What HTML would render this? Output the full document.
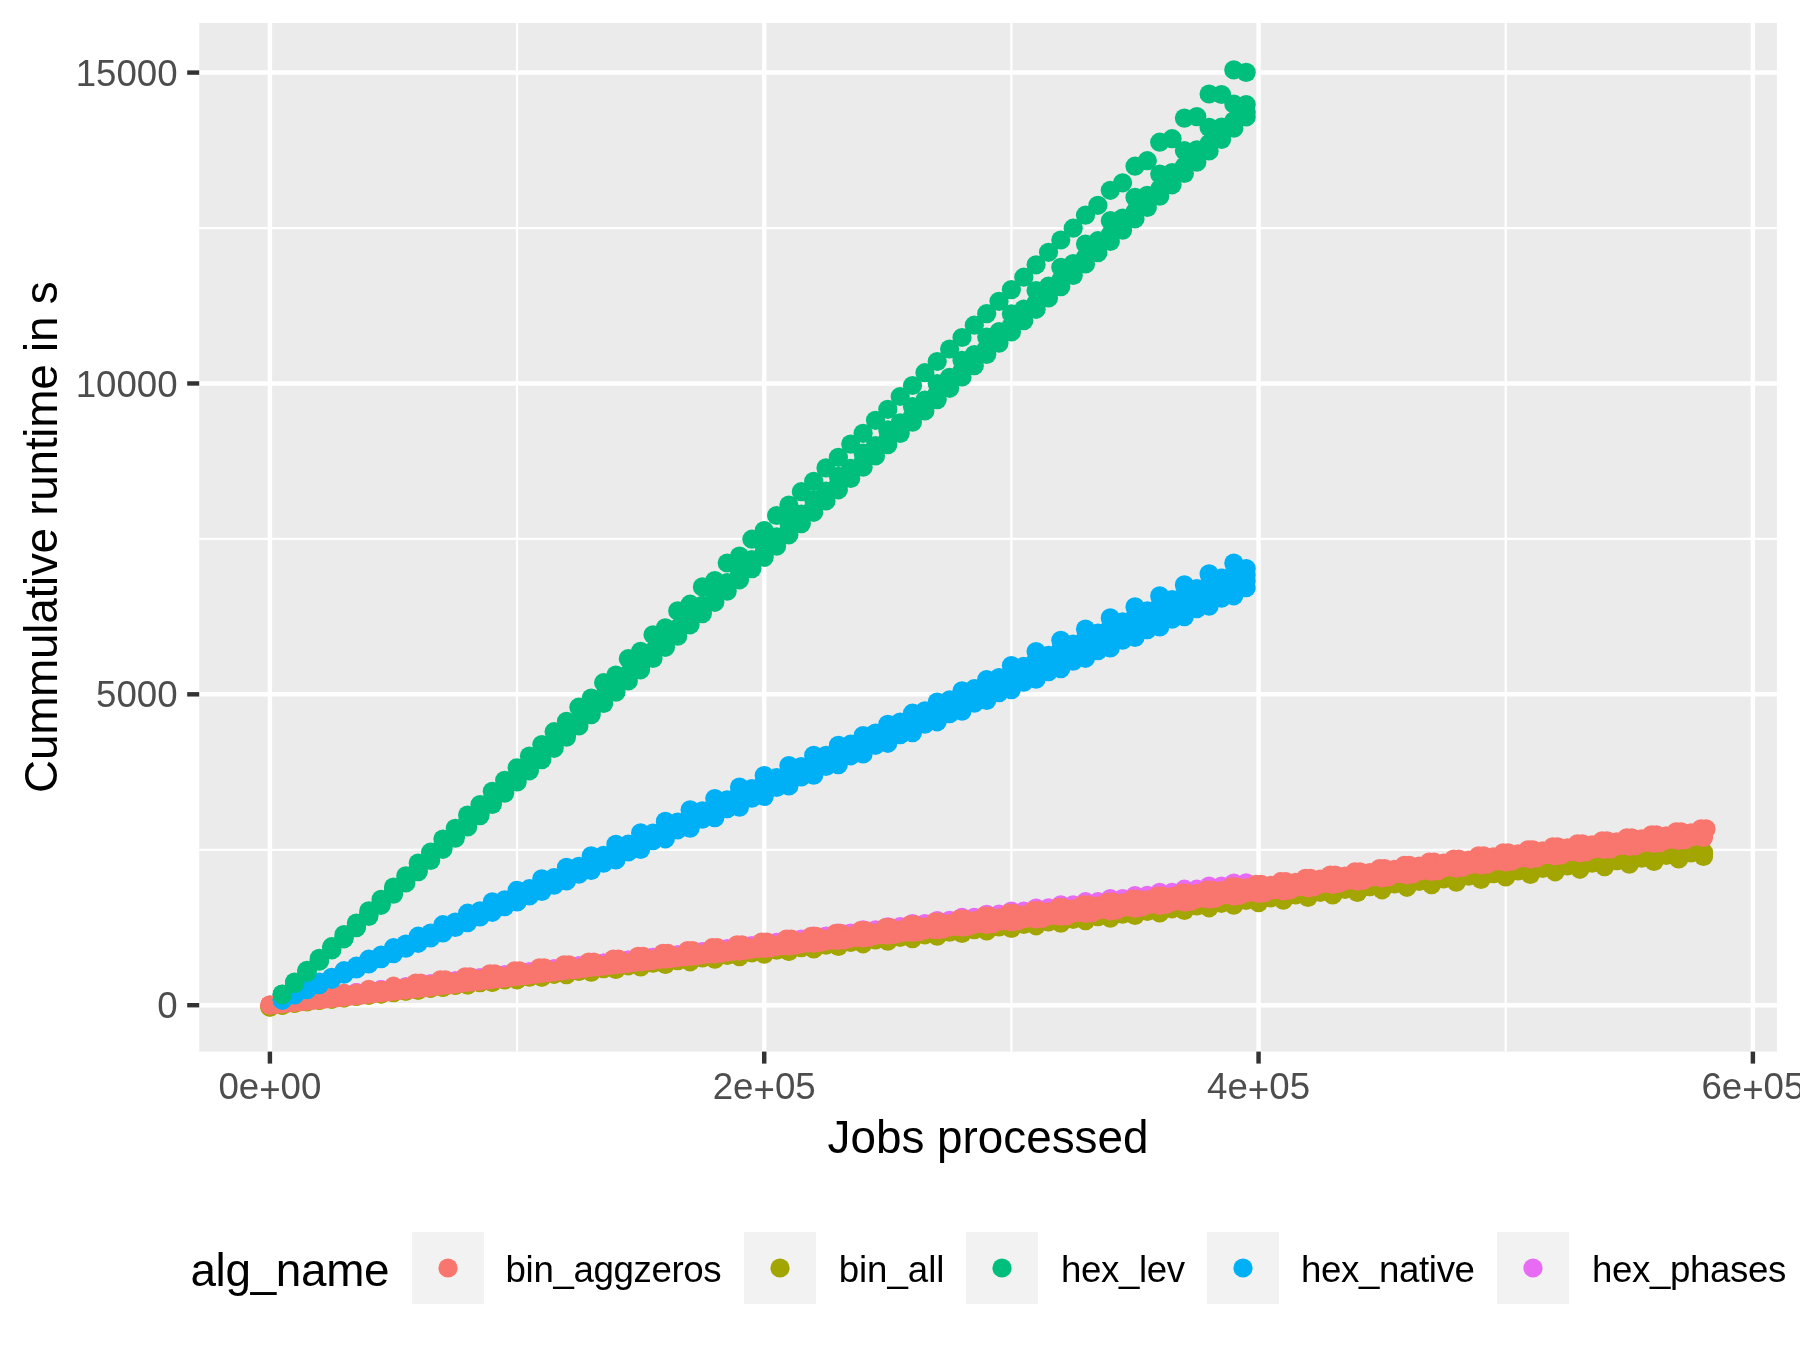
<!DOCTYPE html>
<html><head><meta charset="utf-8"><title>Cumulative runtime</title>
<style>html,body{margin:0;padding:0;background:#fff;}svg{display:block;will-change:transform;}text{font-family:"Liberation Sans",Arial,sans-serif;}</style>
</head><body>
<svg width="1800" height="1350" viewBox="0 0 1800 1350">
<rect width="1800" height="1350" fill="#fff"/>
<rect x="199.2" y="23.0" width="1577.7" height="1028.6" fill="#EBEBEB"/>
<line x1="199.2" x2="1776.9" y1="849.77" y2="849.77" stroke="#fff" stroke-width="2.22"/>
<line x1="199.2" x2="1776.9" y1="538.89" y2="538.89" stroke="#fff" stroke-width="2.22"/>
<line x1="199.2" x2="1776.9" y1="228.03" y2="228.03" stroke="#fff" stroke-width="2.22"/>
<line y1="23.0" y2="1051.6" x1="517.06" x2="517.06" stroke="#fff" stroke-width="2.22"/>
<line y1="23.0" y2="1051.6" x1="1011.39" x2="1011.39" stroke="#fff" stroke-width="2.22"/>
<line y1="23.0" y2="1051.6" x1="1505.72" x2="1505.72" stroke="#fff" stroke-width="2.22"/>
<line x1="199.2" x2="1776.9" y1="1005.20" y2="1005.20" stroke="#fff" stroke-width="4.45"/>
<line x1="199.2" x2="1776.9" y1="694.33" y2="694.33" stroke="#fff" stroke-width="4.45"/>
<line x1="199.2" x2="1776.9" y1="383.46" y2="383.46" stroke="#fff" stroke-width="4.45"/>
<line x1="199.2" x2="1776.9" y1="72.59" y2="72.59" stroke="#fff" stroke-width="4.45"/>
<line y1="23.0" y2="1051.6" x1="269.90" x2="269.90" stroke="#fff" stroke-width="4.45"/>
<line y1="23.0" y2="1051.6" x1="764.23" x2="764.23" stroke="#fff" stroke-width="4.45"/>
<line y1="23.0" y2="1051.6" x1="1258.56" x2="1258.56" stroke="#fff" stroke-width="4.45"/>
<line y1="23.0" y2="1051.6" x1="1752.89" x2="1752.89" stroke="#fff" stroke-width="4.45"/>
<svg x="199.2" y="23.0" width="1577.7" height="1028.6" viewBox="199.2 23.0 1577.7 1028.6" overflow="hidden">
<g fill="#A3A500"><circle cx="269.9" cy="1007.0" r="9.6"/><circle cx="269.9" cy="1007.0" r="9.6"/><circle cx="269.9" cy="1007.0" r="9.6"/><circle cx="282.3" cy="1005.1" r="9.6"/><circle cx="282.3" cy="1005.1" r="9.6"/><circle cx="282.3" cy="1005.1" r="9.6"/><circle cx="294.6" cy="1003.1" r="9.6"/><circle cx="294.6" cy="1003.1" r="9.6"/><circle cx="294.6" cy="1003.1" r="9.6"/><circle cx="307.0" cy="1001.6" r="9.6"/><circle cx="307.0" cy="1001.6" r="9.6"/><circle cx="307.0" cy="1001.5" r="9.6"/><circle cx="319.3" cy="1000.4" r="9.6"/><circle cx="319.3" cy="1000.3" r="9.6"/><circle cx="319.3" cy="1000.2" r="9.6"/><circle cx="331.7" cy="999.1" r="9.6"/><circle cx="331.7" cy="999.0" r="9.6"/><circle cx="331.7" cy="998.9" r="9.6"/><circle cx="344.0" cy="997.8" r="9.6"/><circle cx="344.0" cy="997.7" r="9.6"/><circle cx="344.0" cy="997.6" r="9.6"/><circle cx="356.4" cy="996.5" r="9.6"/><circle cx="356.4" cy="996.4" r="9.6"/><circle cx="356.4" cy="996.2" r="9.6"/><circle cx="368.8" cy="995.2" r="9.6"/><circle cx="368.8" cy="995.1" r="9.6"/><circle cx="368.8" cy="994.9" r="9.6"/><circle cx="381.1" cy="993.9" r="9.6"/><circle cx="381.1" cy="993.8" r="9.6"/><circle cx="381.1" cy="993.6" r="9.6"/><circle cx="393.5" cy="992.6" r="9.6"/><circle cx="393.5" cy="992.5" r="9.6"/><circle cx="393.5" cy="992.3" r="9.6"/><circle cx="405.8" cy="991.1" r="9.6"/><circle cx="405.8" cy="990.9" r="9.6"/><circle cx="405.8" cy="990.7" r="9.6"/><circle cx="418.2" cy="990.1" r="9.6"/><circle cx="418.2" cy="989.9" r="9.6"/><circle cx="418.2" cy="989.6" r="9.6"/><circle cx="430.6" cy="988.3" r="9.6"/><circle cx="430.6" cy="988.1" r="9.6"/><circle cx="430.6" cy="987.8" r="9.6"/><circle cx="442.9" cy="987.5" r="9.6"/><circle cx="442.9" cy="987.2" r="9.6"/><circle cx="442.9" cy="987.0" r="9.6"/><circle cx="455.3" cy="985.5" r="9.6"/><circle cx="455.3" cy="985.2" r="9.6"/><circle cx="455.3" cy="984.9" r="9.6"/><circle cx="467.6" cy="984.9" r="9.6"/><circle cx="467.6" cy="984.6" r="9.6"/><circle cx="467.6" cy="984.4" r="9.6"/><circle cx="480.0" cy="982.7" r="9.6"/><circle cx="480.0" cy="982.4" r="9.6"/><circle cx="480.0" cy="982.1" r="9.6"/><circle cx="492.3" cy="982.4" r="9.6"/><circle cx="492.3" cy="982.0" r="9.6"/><circle cx="492.3" cy="981.7" r="9.6"/><circle cx="504.7" cy="979.9" r="9.6"/><circle cx="504.7" cy="979.5" r="9.6"/><circle cx="504.7" cy="979.2" r="9.6"/><circle cx="517.1" cy="979.8" r="9.6"/><circle cx="517.1" cy="979.4" r="9.6"/><circle cx="517.1" cy="979.1" r="9.6"/><circle cx="529.4" cy="977.1" r="9.6"/><circle cx="529.4" cy="976.7" r="9.6"/><circle cx="529.4" cy="976.3" r="9.6"/><circle cx="541.8" cy="977.2" r="9.6"/><circle cx="541.8" cy="976.8" r="9.6"/><circle cx="541.8" cy="976.4" r="9.6"/><circle cx="554.1" cy="974.3" r="9.6"/><circle cx="554.1" cy="973.8" r="9.6"/><circle cx="554.1" cy="973.4" r="9.6"/><circle cx="566.5" cy="974.6" r="9.6"/><circle cx="566.5" cy="974.2" r="9.6"/><circle cx="566.5" cy="973.8" r="9.6"/><circle cx="578.9" cy="971.5" r="9.6"/><circle cx="578.9" cy="971.0" r="9.6"/><circle cx="578.9" cy="970.5" r="9.6"/><circle cx="591.2" cy="972.1" r="9.6"/><circle cx="591.2" cy="971.6" r="9.6"/><circle cx="591.2" cy="971.1" r="9.6"/><circle cx="603.6" cy="968.6" r="9.6"/><circle cx="603.6" cy="968.2" r="9.6"/><circle cx="603.6" cy="967.7" r="9.6"/><circle cx="615.9" cy="969.5" r="9.6"/><circle cx="615.9" cy="969.0" r="9.6"/><circle cx="615.9" cy="968.5" r="9.6"/><circle cx="628.3" cy="965.8" r="9.6"/><circle cx="628.3" cy="965.3" r="9.6"/><circle cx="628.3" cy="964.8" r="9.6"/><circle cx="640.6" cy="966.9" r="9.6"/><circle cx="640.6" cy="966.4" r="9.6"/><circle cx="640.6" cy="965.9" r="9.6"/><circle cx="653.0" cy="963.1" r="9.6"/><circle cx="653.0" cy="962.6" r="9.6"/><circle cx="653.0" cy="962.0" r="9.6"/><circle cx="665.4" cy="964.4" r="9.6"/><circle cx="665.4" cy="963.8" r="9.6"/><circle cx="665.4" cy="963.2" r="9.6"/><circle cx="677.7" cy="960.6" r="9.6"/><circle cx="677.7" cy="960.0" r="9.6"/><circle cx="677.7" cy="959.4" r="9.6"/><circle cx="690.1" cy="961.8" r="9.6"/><circle cx="690.1" cy="961.2" r="9.6"/><circle cx="690.1" cy="960.6" r="9.6"/><circle cx="702.4" cy="958.0" r="9.6"/><circle cx="702.4" cy="957.4" r="9.6"/><circle cx="702.4" cy="956.7" r="9.6"/><circle cx="714.8" cy="959.2" r="9.6"/><circle cx="714.8" cy="958.6" r="9.6"/><circle cx="714.8" cy="957.9" r="9.6"/><circle cx="727.2" cy="955.4" r="9.6"/><circle cx="727.2" cy="954.7" r="9.6"/><circle cx="727.2" cy="954.1" r="9.6"/><circle cx="739.5" cy="956.7" r="9.6"/><circle cx="739.5" cy="956.0" r="9.6"/><circle cx="739.5" cy="955.3" r="9.6"/><circle cx="751.9" cy="952.8" r="9.6"/><circle cx="751.9" cy="952.1" r="9.6"/><circle cx="751.9" cy="951.4" r="9.6"/><circle cx="764.2" cy="954.1" r="9.6"/><circle cx="764.2" cy="953.4" r="9.6"/><circle cx="764.2" cy="952.6" r="9.6"/><circle cx="776.6" cy="950.2" r="9.6"/><circle cx="776.6" cy="949.5" r="9.6"/><circle cx="776.6" cy="948.8" r="9.6"/><circle cx="788.9" cy="951.5" r="9.6"/><circle cx="788.9" cy="950.8" r="9.6"/><circle cx="788.9" cy="950.0" r="9.6"/><circle cx="801.3" cy="947.7" r="9.6"/><circle cx="801.3" cy="946.9" r="9.6"/><circle cx="801.3" cy="946.1" r="9.6"/><circle cx="813.7" cy="948.9" r="9.6"/><circle cx="813.7" cy="948.1" r="9.6"/><circle cx="813.7" cy="947.4" r="9.6"/><circle cx="826.0" cy="945.1" r="9.6"/><circle cx="826.0" cy="944.3" r="9.6"/><circle cx="826.0" cy="943.5" r="9.6"/><circle cx="838.4" cy="946.4" r="9.6"/><circle cx="838.4" cy="945.5" r="9.6"/><circle cx="838.4" cy="944.7" r="9.6"/><circle cx="850.7" cy="942.5" r="9.6"/><circle cx="850.7" cy="941.7" r="9.6"/><circle cx="850.7" cy="940.8" r="9.6"/><circle cx="863.1" cy="943.8" r="9.6"/><circle cx="863.1" cy="942.9" r="9.6"/><circle cx="863.1" cy="942.1" r="9.6"/><circle cx="875.5" cy="939.9" r="9.6"/><circle cx="875.5" cy="939.0" r="9.6"/><circle cx="875.5" cy="938.2" r="9.6"/><circle cx="887.8" cy="941.2" r="9.6"/><circle cx="887.8" cy="940.3" r="9.6"/><circle cx="887.8" cy="939.4" r="9.6"/><circle cx="900.2" cy="937.3" r="9.6"/><circle cx="900.2" cy="936.4" r="9.6"/><circle cx="900.2" cy="935.5" r="9.6"/><circle cx="912.5" cy="938.7" r="9.6"/><circle cx="912.5" cy="937.7" r="9.6"/><circle cx="912.5" cy="936.8" r="9.6"/><circle cx="924.9" cy="934.8" r="9.6"/><circle cx="924.9" cy="933.8" r="9.6"/><circle cx="924.9" cy="932.8" r="9.6"/><circle cx="937.2" cy="936.1" r="9.6"/><circle cx="937.2" cy="935.1" r="9.6"/><circle cx="937.2" cy="934.1" r="9.6"/><circle cx="949.6" cy="932.2" r="9.6"/><circle cx="949.6" cy="931.2" r="9.6"/><circle cx="949.6" cy="930.2" r="9.6"/><circle cx="962.0" cy="933.5" r="9.6"/><circle cx="962.0" cy="932.5" r="9.6"/><circle cx="962.0" cy="931.5" r="9.6"/><circle cx="974.3" cy="929.6" r="9.6"/><circle cx="974.3" cy="928.6" r="9.6"/><circle cx="974.3" cy="927.5" r="9.6"/><circle cx="986.7" cy="930.9" r="9.6"/><circle cx="986.7" cy="929.9" r="9.6"/><circle cx="986.7" cy="928.9" r="9.6"/><circle cx="999.0" cy="927.0" r="9.6"/><circle cx="999.0" cy="926.0" r="9.6"/><circle cx="999.0" cy="924.9" r="9.6"/><circle cx="1011.4" cy="928.4" r="9.6"/><circle cx="1011.4" cy="927.3" r="9.6"/><circle cx="1011.4" cy="926.2" r="9.6"/><circle cx="1023.8" cy="924.4" r="9.6"/><circle cx="1023.8" cy="923.3" r="9.6"/><circle cx="1023.8" cy="922.2" r="9.6"/><circle cx="1036.1" cy="925.8" r="9.6"/><circle cx="1036.1" cy="924.7" r="9.6"/><circle cx="1036.1" cy="923.6" r="9.6"/><circle cx="1048.5" cy="921.9" r="9.6"/><circle cx="1048.5" cy="920.7" r="9.6"/><circle cx="1048.5" cy="919.6" r="9.6"/><circle cx="1060.8" cy="923.2" r="9.6"/><circle cx="1060.8" cy="922.1" r="9.6"/><circle cx="1060.8" cy="920.9" r="9.6"/><circle cx="1073.2" cy="919.3" r="9.6"/><circle cx="1073.2" cy="918.1" r="9.6"/><circle cx="1073.2" cy="916.9" r="9.6"/><circle cx="1085.5" cy="920.7" r="9.6"/><circle cx="1085.5" cy="919.5" r="9.6"/><circle cx="1085.5" cy="918.3" r="9.6"/><circle cx="1097.9" cy="916.7" r="9.6"/><circle cx="1097.9" cy="915.5" r="9.6"/><circle cx="1097.9" cy="914.3" r="9.6"/><circle cx="1110.3" cy="918.1" r="9.6"/><circle cx="1110.3" cy="916.9" r="9.6"/><circle cx="1110.3" cy="915.6" r="9.6"/><circle cx="1122.6" cy="914.1" r="9.6"/><circle cx="1122.6" cy="912.9" r="9.6"/><circle cx="1122.6" cy="911.6" r="9.6"/><circle cx="1135.0" cy="915.5" r="9.6"/><circle cx="1135.0" cy="914.3" r="9.6"/><circle cx="1135.0" cy="913.0" r="9.6"/><circle cx="1147.3" cy="911.5" r="9.6"/><circle cx="1147.3" cy="910.3" r="9.6"/><circle cx="1147.3" cy="909.0" r="9.6"/><circle cx="1159.7" cy="913.0" r="9.6"/><circle cx="1159.7" cy="911.7" r="9.6"/><circle cx="1159.7" cy="910.4" r="9.6"/><circle cx="1172.1" cy="908.8" r="9.6"/><circle cx="1172.1" cy="907.5" r="9.6"/><circle cx="1172.1" cy="906.2" r="9.6"/><circle cx="1184.4" cy="910.4" r="9.6"/><circle cx="1184.4" cy="909.0" r="9.6"/><circle cx="1184.4" cy="907.7" r="9.6"/><circle cx="1196.8" cy="906.0" r="9.6"/><circle cx="1196.8" cy="904.7" r="9.6"/><circle cx="1196.8" cy="903.3" r="9.6"/><circle cx="1209.1" cy="907.8" r="9.6"/><circle cx="1209.1" cy="906.4" r="9.6"/><circle cx="1209.1" cy="905.1" r="9.6"/><circle cx="1221.5" cy="903.3" r="9.6"/><circle cx="1221.5" cy="901.9" r="9.6"/><circle cx="1221.5" cy="900.5" r="9.6"/><circle cx="1233.8" cy="905.2" r="9.6"/><circle cx="1233.8" cy="903.8" r="9.6"/><circle cx="1233.8" cy="902.4" r="9.6"/><circle cx="1246.2" cy="900.5" r="9.6"/><circle cx="1246.2" cy="899.1" r="9.6"/><circle cx="1246.2" cy="897.7" r="9.6"/><circle cx="1258.6" cy="902.7" r="9.6"/><circle cx="1258.6" cy="901.2" r="9.6"/><circle cx="1258.6" cy="899.8" r="9.6"/><circle cx="1270.9" cy="897.8" r="9.6"/><circle cx="1270.9" cy="896.3" r="9.6"/><circle cx="1270.9" cy="894.8" r="9.6"/><circle cx="1283.3" cy="900.1" r="9.6"/><circle cx="1283.3" cy="898.6" r="9.6"/><circle cx="1283.3" cy="897.1" r="9.6"/><circle cx="1295.6" cy="895.0" r="9.6"/><circle cx="1295.6" cy="893.5" r="9.6"/><circle cx="1295.6" cy="892.0" r="9.6"/><circle cx="1308.0" cy="897.5" r="9.6"/><circle cx="1308.0" cy="896.0" r="9.6"/><circle cx="1308.0" cy="894.5" r="9.6"/><circle cx="1320.4" cy="892.3" r="9.6"/><circle cx="1320.4" cy="890.7" r="9.6"/><circle cx="1320.4" cy="889.2" r="9.6"/><circle cx="1332.7" cy="895.0" r="9.6"/><circle cx="1332.7" cy="893.4" r="9.6"/><circle cx="1332.7" cy="891.9" r="9.6"/><circle cx="1345.1" cy="889.5" r="9.6"/><circle cx="1345.1" cy="887.9" r="9.6"/><circle cx="1345.1" cy="886.3" r="9.6"/><circle cx="1357.4" cy="892.4" r="9.6"/><circle cx="1357.4" cy="890.8" r="9.6"/><circle cx="1357.4" cy="889.2" r="9.6"/><circle cx="1369.8" cy="886.7" r="9.6"/><circle cx="1369.8" cy="885.1" r="9.6"/><circle cx="1369.8" cy="883.5" r="9.6"/><circle cx="1382.1" cy="889.8" r="9.6"/><circle cx="1382.1" cy="888.2" r="9.6"/><circle cx="1382.1" cy="886.6" r="9.6"/><circle cx="1394.5" cy="884.0" r="9.6"/><circle cx="1394.5" cy="882.3" r="9.6"/><circle cx="1394.5" cy="880.7" r="9.6"/><circle cx="1406.9" cy="887.3" r="9.6"/><circle cx="1406.9" cy="885.6" r="9.6"/><circle cx="1406.9" cy="883.9" r="9.6"/><circle cx="1419.2" cy="881.4" r="9.6"/><circle cx="1419.2" cy="879.7" r="9.6"/><circle cx="1419.2" cy="878.0" r="9.6"/><circle cx="1431.6" cy="884.7" r="9.6"/><circle cx="1431.6" cy="883.0" r="9.6"/><circle cx="1431.6" cy="881.3" r="9.6"/><circle cx="1443.9" cy="878.8" r="9.6"/><circle cx="1443.9" cy="877.0" r="9.6"/><circle cx="1443.9" cy="875.3" r="9.6"/><circle cx="1456.3" cy="882.1" r="9.6"/><circle cx="1456.3" cy="880.4" r="9.6"/><circle cx="1456.3" cy="878.6" r="9.6"/><circle cx="1468.7" cy="876.2" r="9.6"/><circle cx="1468.7" cy="874.4" r="9.6"/><circle cx="1468.7" cy="872.7" r="9.6"/><circle cx="1481.0" cy="879.5" r="9.6"/><circle cx="1481.0" cy="877.8" r="9.6"/><circle cx="1481.0" cy="876.0" r="9.6"/><circle cx="1493.4" cy="873.6" r="9.6"/><circle cx="1493.4" cy="871.8" r="9.6"/><circle cx="1493.4" cy="870.0" r="9.6"/><circle cx="1505.7" cy="877.0" r="9.6"/><circle cx="1505.7" cy="875.2" r="9.6"/><circle cx="1505.7" cy="873.4" r="9.6"/><circle cx="1518.1" cy="871.0" r="9.6"/><circle cx="1518.1" cy="869.2" r="9.6"/><circle cx="1518.1" cy="867.4" r="9.6"/><circle cx="1530.4" cy="874.4" r="9.6"/><circle cx="1530.4" cy="872.6" r="9.6"/><circle cx="1530.4" cy="870.7" r="9.6"/><circle cx="1542.8" cy="868.4" r="9.6"/><circle cx="1542.8" cy="866.6" r="9.6"/><circle cx="1542.8" cy="864.7" r="9.6"/><circle cx="1555.2" cy="871.8" r="9.6"/><circle cx="1555.2" cy="869.9" r="9.6"/><circle cx="1555.2" cy="868.1" r="9.6"/><circle cx="1567.5" cy="865.8" r="9.6"/><circle cx="1567.5" cy="863.9" r="9.6"/><circle cx="1567.5" cy="862.0" r="9.6"/><circle cx="1579.9" cy="869.3" r="9.6"/><circle cx="1579.9" cy="867.3" r="9.6"/><circle cx="1579.9" cy="865.4" r="9.6"/><circle cx="1592.2" cy="863.2" r="9.6"/><circle cx="1592.2" cy="861.3" r="9.6"/><circle cx="1592.2" cy="859.4" r="9.6"/><circle cx="1604.6" cy="866.7" r="9.6"/><circle cx="1604.6" cy="864.7" r="9.6"/><circle cx="1604.6" cy="862.8" r="9.6"/><circle cx="1616.9" cy="860.7" r="9.6"/><circle cx="1616.9" cy="858.7" r="9.6"/><circle cx="1616.9" cy="856.7" r="9.6"/><circle cx="1629.3" cy="864.1" r="9.6"/><circle cx="1629.3" cy="862.1" r="9.6"/><circle cx="1629.3" cy="860.1" r="9.6"/><circle cx="1641.7" cy="858.1" r="9.6"/><circle cx="1641.7" cy="856.1" r="9.6"/><circle cx="1641.7" cy="854.1" r="9.6"/><circle cx="1654.0" cy="861.5" r="9.6"/><circle cx="1654.0" cy="859.5" r="9.6"/><circle cx="1654.0" cy="857.5" r="9.6"/><circle cx="1666.4" cy="855.5" r="9.6"/><circle cx="1666.4" cy="853.4" r="9.6"/><circle cx="1666.4" cy="851.4" r="9.6"/><circle cx="1678.7" cy="859.0" r="9.6"/><circle cx="1678.7" cy="856.9" r="9.6"/><circle cx="1678.7" cy="854.9" r="9.6"/><circle cx="1691.1" cy="852.9" r="9.6"/><circle cx="1691.1" cy="850.8" r="9.6"/><circle cx="1691.1" cy="848.7" r="9.6"/><circle cx="1703.5" cy="856.4" r="9.6"/><circle cx="1703.5" cy="854.3" r="9.6"/><circle cx="1703.5" cy="852.2" r="9.6"/></g>
<g fill="#E76BF3"><circle cx="282.3" cy="1000.7" r="9.6"/><circle cx="282.3" cy="1000.7" r="9.6"/><circle cx="294.6" cy="999.3" r="9.6"/><circle cx="294.6" cy="999.3" r="9.6"/><circle cx="307.0" cy="998.0" r="9.6"/><circle cx="307.0" cy="998.0" r="9.6"/><circle cx="319.3" cy="996.6" r="9.6"/><circle cx="319.3" cy="996.6" r="9.6"/><circle cx="331.7" cy="995.3" r="9.6"/><circle cx="331.7" cy="995.3" r="9.6"/><circle cx="344.0" cy="993.9" r="9.6"/><circle cx="344.0" cy="993.9" r="9.6"/><circle cx="356.4" cy="992.6" r="9.6"/><circle cx="356.4" cy="992.6" r="9.6"/><circle cx="368.8" cy="991.2" r="9.6"/><circle cx="368.8" cy="991.2" r="9.6"/><circle cx="381.1" cy="989.7" r="9.6"/><circle cx="381.1" cy="989.7" r="9.6"/><circle cx="393.5" cy="988.3" r="9.6"/><circle cx="393.5" cy="988.3" r="9.6"/><circle cx="405.8" cy="986.8" r="9.6"/><circle cx="405.8" cy="986.8" r="9.6"/><circle cx="418.2" cy="985.3" r="9.6"/><circle cx="418.2" cy="985.3" r="9.6"/><circle cx="430.6" cy="983.9" r="9.6"/><circle cx="430.6" cy="983.9" r="9.6"/><circle cx="442.9" cy="982.4" r="9.6"/><circle cx="442.9" cy="982.4" r="9.6"/><circle cx="455.3" cy="980.9" r="9.6"/><circle cx="455.3" cy="980.9" r="9.6"/><circle cx="467.6" cy="979.4" r="9.6"/><circle cx="467.6" cy="979.4" r="9.6"/><circle cx="480.0" cy="977.9" r="9.6"/><circle cx="480.0" cy="977.9" r="9.6"/><circle cx="492.3" cy="976.4" r="9.6"/><circle cx="492.3" cy="976.4" r="9.6"/><circle cx="504.7" cy="974.9" r="9.6"/><circle cx="504.7" cy="974.9" r="9.6"/><circle cx="517.1" cy="973.4" r="9.6"/><circle cx="517.1" cy="973.4" r="9.6"/><circle cx="529.4" cy="971.9" r="9.6"/><circle cx="529.4" cy="971.9" r="9.6"/><circle cx="541.8" cy="970.4" r="9.6"/><circle cx="541.8" cy="970.4" r="9.6"/><circle cx="554.1" cy="968.8" r="9.6"/><circle cx="554.1" cy="968.8" r="9.6"/><circle cx="566.5" cy="967.3" r="9.6"/><circle cx="566.5" cy="967.3" r="9.6"/><circle cx="578.9" cy="965.9" r="9.6"/><circle cx="578.9" cy="965.9" r="9.6"/><circle cx="591.2" cy="964.3" r="9.6"/><circle cx="591.2" cy="964.5" r="9.6"/><circle cx="603.6" cy="963.1" r="9.6"/><circle cx="603.6" cy="963.1" r="9.6"/><circle cx="615.9" cy="961.2" r="9.6"/><circle cx="615.9" cy="961.6" r="9.6"/><circle cx="628.3" cy="960.2" r="9.6"/><circle cx="628.3" cy="960.2" r="9.6"/><circle cx="640.6" cy="958.1" r="9.6"/><circle cx="640.6" cy="958.8" r="9.6"/><circle cx="653.0" cy="957.4" r="9.6"/><circle cx="653.0" cy="957.4" r="9.6"/><circle cx="665.4" cy="954.9" r="9.6"/><circle cx="665.4" cy="956.1" r="9.6"/><circle cx="677.7" cy="954.8" r="9.6"/><circle cx="677.7" cy="954.8" r="9.6"/><circle cx="690.1" cy="951.8" r="9.6"/><circle cx="690.1" cy="953.4" r="9.6"/><circle cx="702.4" cy="951.7" r="9.6"/><circle cx="702.4" cy="952.1" r="9.6"/><circle cx="714.8" cy="948.7" r="9.6"/><circle cx="714.8" cy="950.8" r="9.6"/><circle cx="727.2" cy="948.6" r="9.6"/><circle cx="727.2" cy="949.4" r="9.6"/><circle cx="739.5" cy="945.5" r="9.6"/><circle cx="739.5" cy="948.1" r="9.6"/><circle cx="751.9" cy="945.5" r="9.6"/><circle cx="751.9" cy="946.8" r="9.6"/><circle cx="764.2" cy="942.4" r="9.6"/><circle cx="764.2" cy="945.4" r="9.6"/><circle cx="776.6" cy="942.4" r="9.6"/><circle cx="776.6" cy="944.1" r="9.6"/><circle cx="788.9" cy="939.3" r="9.6"/><circle cx="788.9" cy="942.8" r="9.6"/><circle cx="801.3" cy="939.2" r="9.6"/><circle cx="801.3" cy="941.4" r="9.6"/><circle cx="813.7" cy="936.2" r="9.6"/><circle cx="813.7" cy="940.1" r="9.6"/><circle cx="826.0" cy="936.1" r="9.6"/><circle cx="826.0" cy="938.8" r="9.6"/><circle cx="838.4" cy="933.0" r="9.6"/><circle cx="838.4" cy="937.4" r="9.6"/><circle cx="850.7" cy="933.0" r="9.6"/><circle cx="850.7" cy="936.1" r="9.6"/><circle cx="863.1" cy="929.9" r="9.6"/><circle cx="863.1" cy="934.8" r="9.6"/><circle cx="875.5" cy="929.8" r="9.6"/><circle cx="875.5" cy="933.4" r="9.6"/><circle cx="887.8" cy="926.8" r="9.6"/><circle cx="887.8" cy="931.8" r="9.6"/><circle cx="900.2" cy="926.7" r="9.6"/><circle cx="900.2" cy="930.8" r="9.6"/><circle cx="912.5" cy="923.6" r="9.6"/><circle cx="912.5" cy="928.6" r="9.6"/><circle cx="924.9" cy="923.6" r="9.6"/><circle cx="924.9" cy="928.1" r="9.6"/><circle cx="937.2" cy="920.5" r="9.6"/><circle cx="937.2" cy="925.5" r="9.6"/><circle cx="949.6" cy="920.4" r="9.6"/><circle cx="949.6" cy="925.4" r="9.6"/><circle cx="962.0" cy="917.4" r="9.6"/><circle cx="962.0" cy="922.4" r="9.6"/><circle cx="974.3" cy="917.3" r="9.6"/><circle cx="974.3" cy="922.3" r="9.6"/><circle cx="986.7" cy="914.3" r="9.6"/><circle cx="986.7" cy="919.3" r="9.6"/><circle cx="999.0" cy="914.2" r="9.6"/><circle cx="999.0" cy="919.2" r="9.6"/><circle cx="1011.4" cy="911.1" r="9.6"/><circle cx="1011.4" cy="916.1" r="9.6"/><circle cx="1023.8" cy="911.1" r="9.6"/><circle cx="1023.8" cy="916.1" r="9.6"/><circle cx="1036.1" cy="908.0" r="9.6"/><circle cx="1036.1" cy="913.0" r="9.6"/><circle cx="1048.5" cy="907.9" r="9.6"/><circle cx="1048.5" cy="912.9" r="9.6"/><circle cx="1060.8" cy="904.9" r="9.6"/><circle cx="1060.8" cy="909.9" r="9.6"/><circle cx="1073.2" cy="904.8" r="9.6"/><circle cx="1073.2" cy="909.8" r="9.6"/><circle cx="1085.5" cy="901.7" r="9.6"/><circle cx="1085.5" cy="906.7" r="9.6"/><circle cx="1097.9" cy="901.7" r="9.6"/><circle cx="1097.9" cy="906.7" r="9.6"/><circle cx="1110.3" cy="898.6" r="9.6"/><circle cx="1110.3" cy="903.6" r="9.6"/><circle cx="1122.6" cy="898.5" r="9.6"/><circle cx="1122.6" cy="903.5" r="9.6"/><circle cx="1135.0" cy="895.5" r="9.6"/><circle cx="1135.0" cy="900.5" r="9.6"/><circle cx="1147.3" cy="895.4" r="9.6"/><circle cx="1147.3" cy="900.4" r="9.6"/><circle cx="1159.7" cy="892.4" r="9.6"/><circle cx="1159.7" cy="897.4" r="9.6"/><circle cx="1172.1" cy="892.3" r="9.6"/><circle cx="1172.1" cy="897.3" r="9.6"/><circle cx="1184.4" cy="889.2" r="9.6"/><circle cx="1184.4" cy="894.2" r="9.6"/><circle cx="1196.8" cy="889.2" r="9.6"/><circle cx="1196.8" cy="894.2" r="9.6"/><circle cx="1209.1" cy="886.1" r="9.6"/><circle cx="1209.1" cy="891.1" r="9.6"/><circle cx="1221.5" cy="886.0" r="9.6"/><circle cx="1221.5" cy="891.0" r="9.6"/><circle cx="1233.8" cy="883.0" r="9.6"/><circle cx="1233.8" cy="888.0" r="9.6"/><circle cx="1246.2" cy="882.9" r="9.6"/><circle cx="1246.2" cy="887.9" r="9.6"/></g>
<g fill="#F8766D"><circle cx="269.9" cy="1005.0" r="9.6"/><circle cx="269.9" cy="1005.0" r="9.6"/><circle cx="282.3" cy="1003.3" r="9.6"/><circle cx="282.3" cy="1003.5" r="9.6"/><circle cx="294.6" cy="1001.1" r="9.6"/><circle cx="294.6" cy="1001.7" r="9.6"/><circle cx="307.0" cy="1000.0" r="9.6"/><circle cx="307.0" cy="1000.5" r="9.6"/><circle cx="319.3" cy="997.2" r="9.6"/><circle cx="319.3" cy="998.4" r="9.6"/><circle cx="331.7" cy="996.7" r="9.6"/><circle cx="331.7" cy="997.5" r="9.6"/><circle cx="344.0" cy="993.3" r="9.6"/><circle cx="344.0" cy="995.1" r="9.6"/><circle cx="356.4" cy="993.3" r="9.6"/><circle cx="356.4" cy="994.4" r="9.6"/><circle cx="368.8" cy="989.4" r="9.6"/><circle cx="368.8" cy="991.8" r="9.6"/><circle cx="381.1" cy="990.4" r="9.6"/><circle cx="381.1" cy="991.6" r="9.6"/><circle cx="393.5" cy="986.2" r="9.6"/><circle cx="393.5" cy="988.8" r="9.6"/><circle cx="405.8" cy="987.7" r="9.6"/><circle cx="405.8" cy="988.8" r="9.6"/><circle cx="415.7" cy="983.1" r="9.6"/><circle cx="420.7" cy="983.1" r="9.6"/><circle cx="418.2" cy="985.7" r="9.6"/><circle cx="430.6" cy="984.8" r="9.6"/><circle cx="430.6" cy="985.9" r="9.6"/><circle cx="440.4" cy="979.9" r="9.6"/><circle cx="445.4" cy="979.9" r="9.6"/><circle cx="442.9" cy="982.7" r="9.6"/><circle cx="455.3" cy="982.0" r="9.6"/><circle cx="455.3" cy="983.0" r="9.6"/><circle cx="465.1" cy="976.9" r="9.6"/><circle cx="470.1" cy="976.9" r="9.6"/><circle cx="467.6" cy="979.6" r="9.6"/><circle cx="480.0" cy="979.3" r="9.6"/><circle cx="480.0" cy="980.1" r="9.6"/><circle cx="489.8" cy="973.9" r="9.6"/><circle cx="494.8" cy="973.9" r="9.6"/><circle cx="492.3" cy="976.6" r="9.6"/><circle cx="504.7" cy="976.5" r="9.6"/><circle cx="504.7" cy="977.2" r="9.6"/><circle cx="514.6" cy="970.9" r="9.6"/><circle cx="519.6" cy="970.9" r="9.6"/><circle cx="517.1" cy="973.6" r="9.6"/><circle cx="529.4" cy="973.8" r="9.6"/><circle cx="529.4" cy="974.3" r="9.6"/><circle cx="539.3" cy="967.9" r="9.6"/><circle cx="544.3" cy="967.9" r="9.6"/><circle cx="541.8" cy="970.6" r="9.6"/><circle cx="554.1" cy="971.0" r="9.6"/><circle cx="554.1" cy="971.4" r="9.6"/><circle cx="564.0" cy="964.8" r="9.6"/><circle cx="569.0" cy="964.8" r="9.6"/><circle cx="566.5" cy="967.6" r="9.6"/><circle cx="578.9" cy="968.4" r="9.6"/><circle cx="578.9" cy="968.6" r="9.6"/><circle cx="588.7" cy="962.0" r="9.6"/><circle cx="593.7" cy="962.0" r="9.6"/><circle cx="591.2" cy="964.7" r="9.6"/><circle cx="603.6" cy="965.7" r="9.6"/><circle cx="603.6" cy="965.9" r="9.6"/><circle cx="613.4" cy="959.1" r="9.6"/><circle cx="618.4" cy="959.1" r="9.6"/><circle cx="615.9" cy="961.9" r="9.6"/><circle cx="628.3" cy="962.8" r="9.6"/><circle cx="628.3" cy="963.0" r="9.6"/><circle cx="638.1" cy="956.3" r="9.6"/><circle cx="643.1" cy="956.3" r="9.6"/><circle cx="640.6" cy="959.0" r="9.6"/><circle cx="653.0" cy="959.9" r="9.6"/><circle cx="653.0" cy="960.1" r="9.6"/><circle cx="662.9" cy="953.4" r="9.6"/><circle cx="667.9" cy="953.4" r="9.6"/><circle cx="665.4" cy="956.3" r="9.6"/><circle cx="677.7" cy="956.9" r="9.6"/><circle cx="677.7" cy="957.3" r="9.6"/><circle cx="687.6" cy="950.5" r="9.6"/><circle cx="692.6" cy="950.5" r="9.6"/><circle cx="690.1" cy="953.5" r="9.6"/><circle cx="702.4" cy="954.0" r="9.6"/><circle cx="702.4" cy="954.5" r="9.6"/><circle cx="712.3" cy="947.7" r="9.6"/><circle cx="717.3" cy="947.7" r="9.6"/><circle cx="714.8" cy="950.7" r="9.6"/><circle cx="727.2" cy="951.0" r="9.6"/><circle cx="727.2" cy="951.7" r="9.6"/><circle cx="737.0" cy="944.8" r="9.6"/><circle cx="742.0" cy="944.8" r="9.6"/><circle cx="739.5" cy="948.0" r="9.6"/><circle cx="751.9" cy="948.1" r="9.6"/><circle cx="751.9" cy="948.9" r="9.6"/><circle cx="761.7" cy="942.0" r="9.6"/><circle cx="766.7" cy="942.0" r="9.6"/><circle cx="764.2" cy="945.2" r="9.6"/><circle cx="776.6" cy="945.1" r="9.6"/><circle cx="776.6" cy="946.1" r="9.6"/><circle cx="786.4" cy="939.1" r="9.6"/><circle cx="791.4" cy="939.1" r="9.6"/><circle cx="788.9" cy="942.4" r="9.6"/><circle cx="801.3" cy="942.2" r="9.6"/><circle cx="801.3" cy="943.3" r="9.6"/><circle cx="811.2" cy="936.3" r="9.6"/><circle cx="816.2" cy="936.3" r="9.6"/><circle cx="813.7" cy="939.7" r="9.6"/><circle cx="826.0" cy="939.1" r="9.6"/><circle cx="826.0" cy="940.4" r="9.6"/><circle cx="835.9" cy="933.4" r="9.6"/><circle cx="840.9" cy="933.4" r="9.6"/><circle cx="838.4" cy="936.9" r="9.6"/><circle cx="850.7" cy="936.1" r="9.6"/><circle cx="850.7" cy="937.6" r="9.6"/><circle cx="860.6" cy="930.5" r="9.6"/><circle cx="865.6" cy="930.5" r="9.6"/><circle cx="863.1" cy="934.1" r="9.6"/><circle cx="875.5" cy="933.0" r="9.6"/><circle cx="875.5" cy="934.7" r="9.6"/><circle cx="885.3" cy="927.7" r="9.6"/><circle cx="890.3" cy="927.7" r="9.6"/><circle cx="887.8" cy="931.4" r="9.6"/><circle cx="900.2" cy="930.0" r="9.6"/><circle cx="900.2" cy="931.9" r="9.6"/><circle cx="910.0" cy="924.8" r="9.6"/><circle cx="915.0" cy="924.8" r="9.6"/><circle cx="912.5" cy="928.6" r="9.6"/><circle cx="924.9" cy="927.0" r="9.6"/><circle cx="924.9" cy="929.0" r="9.6"/><circle cx="934.7" cy="922.0" r="9.6"/><circle cx="939.7" cy="922.0" r="9.6"/><circle cx="937.2" cy="925.8" r="9.6"/><circle cx="949.6" cy="923.9" r="9.6"/><circle cx="949.6" cy="926.1" r="9.6"/><circle cx="959.5" cy="919.1" r="9.6"/><circle cx="964.5" cy="919.1" r="9.6"/><circle cx="962.0" cy="923.1" r="9.6"/><circle cx="974.3" cy="920.9" r="9.6"/><circle cx="974.3" cy="923.3" r="9.6"/><circle cx="984.2" cy="916.2" r="9.6"/><circle cx="989.2" cy="916.2" r="9.6"/><circle cx="986.7" cy="920.3" r="9.6"/><circle cx="999.0" cy="917.8" r="9.6"/><circle cx="999.0" cy="920.4" r="9.6"/><circle cx="1008.9" cy="913.4" r="9.6"/><circle cx="1013.9" cy="913.4" r="9.6"/><circle cx="1011.4" cy="917.5" r="9.6"/><circle cx="1023.8" cy="914.8" r="9.6"/><circle cx="1023.8" cy="917.5" r="9.6"/><circle cx="1033.6" cy="910.5" r="9.6"/><circle cx="1038.6" cy="910.5" r="9.6"/><circle cx="1036.1" cy="914.7" r="9.6"/><circle cx="1048.5" cy="911.8" r="9.6"/><circle cx="1048.5" cy="914.7" r="9.6"/><circle cx="1058.3" cy="907.7" r="9.6"/><circle cx="1063.3" cy="907.7" r="9.6"/><circle cx="1060.8" cy="912.0" r="9.6"/><circle cx="1073.2" cy="908.8" r="9.6"/><circle cx="1073.2" cy="911.8" r="9.6"/><circle cx="1083.0" cy="904.8" r="9.6"/><circle cx="1088.0" cy="904.8" r="9.6"/><circle cx="1085.5" cy="909.2" r="9.6"/><circle cx="1097.9" cy="905.8" r="9.6"/><circle cx="1097.9" cy="909.0" r="9.6"/><circle cx="1107.8" cy="902.0" r="9.6"/><circle cx="1112.8" cy="902.0" r="9.6"/><circle cx="1110.3" cy="906.4" r="9.6"/><circle cx="1122.6" cy="902.8" r="9.6"/><circle cx="1122.6" cy="906.1" r="9.6"/><circle cx="1132.5" cy="899.1" r="9.6"/><circle cx="1137.5" cy="899.1" r="9.6"/><circle cx="1135.0" cy="903.6" r="9.6"/><circle cx="1147.3" cy="899.8" r="9.6"/><circle cx="1147.3" cy="903.2" r="9.6"/><circle cx="1157.2" cy="896.2" r="9.6"/><circle cx="1162.2" cy="896.2" r="9.6"/><circle cx="1159.7" cy="900.8" r="9.6"/><circle cx="1172.1" cy="896.7" r="9.6"/><circle cx="1172.1" cy="900.2" r="9.6"/><circle cx="1181.9" cy="893.1" r="9.6"/><circle cx="1186.9" cy="893.1" r="9.6"/><circle cx="1184.4" cy="897.6" r="9.6"/><circle cx="1196.8" cy="893.6" r="9.6"/><circle cx="1196.8" cy="897.1" r="9.6"/><circle cx="1206.6" cy="890.0" r="9.6"/><circle cx="1211.6" cy="890.0" r="9.6"/><circle cx="1209.1" cy="894.5" r="9.6"/><circle cx="1221.5" cy="890.5" r="9.6"/><circle cx="1221.5" cy="894.0" r="9.6"/><circle cx="1231.3" cy="886.9" r="9.6"/><circle cx="1236.3" cy="886.9" r="9.6"/><circle cx="1233.8" cy="891.4" r="9.6"/><circle cx="1246.2" cy="887.8" r="9.6"/><circle cx="1246.2" cy="891.2" r="9.6"/><circle cx="1256.1" cy="884.3" r="9.6"/><circle cx="1261.1" cy="884.3" r="9.6"/><circle cx="1258.6" cy="888.8" r="9.6"/><circle cx="1270.9" cy="885.3" r="9.6"/><circle cx="1270.9" cy="888.7" r="9.6"/><circle cx="1280.8" cy="881.7" r="9.6"/><circle cx="1285.8" cy="881.7" r="9.6"/><circle cx="1283.3" cy="886.3" r="9.6"/><circle cx="1295.6" cy="882.4" r="9.6"/><circle cx="1295.6" cy="885.8" r="9.6"/><circle cx="1305.5" cy="878.4" r="9.6"/><circle cx="1310.5" cy="878.4" r="9.6"/><circle cx="1308.0" cy="883.0" r="9.6"/><circle cx="1320.4" cy="879.2" r="9.6"/><circle cx="1320.4" cy="882.6" r="9.6"/><circle cx="1330.2" cy="875.1" r="9.6"/><circle cx="1335.2" cy="875.1" r="9.6"/><circle cx="1332.7" cy="879.7" r="9.6"/><circle cx="1345.1" cy="876.0" r="9.6"/><circle cx="1345.1" cy="879.4" r="9.6"/><circle cx="1354.9" cy="871.8" r="9.6"/><circle cx="1359.9" cy="871.8" r="9.6"/><circle cx="1357.4" cy="876.5" r="9.6"/><circle cx="1369.8" cy="872.7" r="9.6"/><circle cx="1369.8" cy="876.1" r="9.6"/><circle cx="1379.6" cy="868.5" r="9.6"/><circle cx="1384.6" cy="868.5" r="9.6"/><circle cx="1382.1" cy="873.2" r="9.6"/><circle cx="1394.5" cy="869.4" r="9.6"/><circle cx="1394.5" cy="872.8" r="9.6"/><circle cx="1404.4" cy="865.3" r="9.6"/><circle cx="1409.4" cy="865.3" r="9.6"/><circle cx="1406.9" cy="869.9" r="9.6"/><circle cx="1419.2" cy="866.2" r="9.6"/><circle cx="1419.2" cy="869.6" r="9.6"/><circle cx="1429.1" cy="862.2" r="9.6"/><circle cx="1434.1" cy="862.2" r="9.6"/><circle cx="1431.6" cy="866.8" r="9.6"/><circle cx="1443.9" cy="863.1" r="9.6"/><circle cx="1443.9" cy="866.5" r="9.6"/><circle cx="1453.8" cy="859.1" r="9.6"/><circle cx="1458.8" cy="859.1" r="9.6"/><circle cx="1456.3" cy="863.6" r="9.6"/><circle cx="1468.7" cy="860.0" r="9.6"/><circle cx="1468.7" cy="863.3" r="9.6"/><circle cx="1478.5" cy="855.9" r="9.6"/><circle cx="1483.5" cy="855.9" r="9.6"/><circle cx="1481.0" cy="860.5" r="9.6"/><circle cx="1493.4" cy="856.9" r="9.6"/><circle cx="1493.4" cy="860.2" r="9.6"/><circle cx="1503.2" cy="852.9" r="9.6"/><circle cx="1508.2" cy="852.9" r="9.6"/><circle cx="1505.7" cy="857.4" r="9.6"/><circle cx="1518.1" cy="853.8" r="9.6"/><circle cx="1518.1" cy="857.1" r="9.6"/><circle cx="1527.9" cy="849.8" r="9.6"/><circle cx="1532.9" cy="849.8" r="9.6"/><circle cx="1530.4" cy="854.3" r="9.6"/><circle cx="1542.8" cy="850.8" r="9.6"/><circle cx="1542.8" cy="854.0" r="9.6"/><circle cx="1552.7" cy="846.8" r="9.6"/><circle cx="1557.7" cy="846.8" r="9.6"/><circle cx="1555.2" cy="851.2" r="9.6"/><circle cx="1567.5" cy="847.8" r="9.6"/><circle cx="1567.5" cy="851.0" r="9.6"/><circle cx="1577.4" cy="843.8" r="9.6"/><circle cx="1582.4" cy="843.8" r="9.6"/><circle cx="1579.9" cy="848.2" r="9.6"/><circle cx="1592.2" cy="844.8" r="9.6"/><circle cx="1592.2" cy="847.9" r="9.6"/><circle cx="1602.1" cy="840.8" r="9.6"/><circle cx="1607.1" cy="840.8" r="9.6"/><circle cx="1604.6" cy="845.1" r="9.6"/><circle cx="1616.9" cy="841.8" r="9.6"/><circle cx="1616.9" cy="844.9" r="9.6"/><circle cx="1626.8" cy="837.8" r="9.6"/><circle cx="1631.8" cy="837.8" r="9.6"/><circle cx="1629.3" cy="842.1" r="9.6"/><circle cx="1641.7" cy="838.8" r="9.6"/><circle cx="1641.7" cy="841.9" r="9.6"/><circle cx="1651.5" cy="834.8" r="9.6"/><circle cx="1656.5" cy="834.8" r="9.6"/><circle cx="1654.0" cy="839.1" r="9.6"/><circle cx="1666.4" cy="835.8" r="9.6"/><circle cx="1666.4" cy="838.9" r="9.6"/><circle cx="1676.2" cy="831.9" r="9.6"/><circle cx="1681.2" cy="831.9" r="9.6"/><circle cx="1678.7" cy="836.1" r="9.6"/><circle cx="1691.1" cy="832.9" r="9.6"/><circle cx="1691.1" cy="835.9" r="9.6"/><circle cx="1701.0" cy="828.9" r="9.6"/><circle cx="1706.0" cy="828.9" r="9.6"/><circle cx="1703.5" cy="833.1" r="9.6"/><circle cx="269.9" cy="1005.0" r="9.6"/><circle cx="276.1" cy="1004.3" r="9.6"/><circle cx="282.3" cy="1003.7" r="9.6"/><circle cx="288.4" cy="1003.0" r="9.6"/><circle cx="294.6" cy="1002.3" r="9.6"/><circle cx="300.8" cy="1001.6" r="9.6"/><circle cx="307.0" cy="1001.0" r="9.6"/><circle cx="313.2" cy="1000.3" r="9.6"/><circle cx="319.3" cy="999.6" r="9.6"/><circle cx="325.5" cy="998.9" r="9.6"/><circle cx="331.7" cy="998.3" r="9.6"/><circle cx="337.9" cy="997.6" r="9.6"/><circle cx="344.0" cy="996.9" r="9.6"/><circle cx="350.2" cy="996.2" r="9.6"/><circle cx="356.4" cy="995.6" r="9.6"/><circle cx="362.6" cy="994.9" r="9.6"/><circle cx="368.8" cy="994.2" r="9.6"/><circle cx="374.9" cy="993.5" r="9.6"/><circle cx="381.1" cy="992.7" r="9.6"/><circle cx="387.3" cy="992.0" r="9.6"/><circle cx="393.5" cy="991.3" r="9.6"/><circle cx="399.7" cy="990.5" r="9.6"/><circle cx="405.8" cy="989.8" r="9.6"/><circle cx="412.0" cy="989.1" r="9.6"/><circle cx="418.2" cy="988.3" r="9.6"/><circle cx="424.4" cy="987.6" r="9.6"/><circle cx="430.6" cy="986.9" r="9.6"/><circle cx="436.7" cy="986.1" r="9.6"/><circle cx="442.9" cy="985.4" r="9.6"/><circle cx="449.1" cy="984.7" r="9.6"/><circle cx="455.3" cy="983.9" r="9.6"/><circle cx="461.5" cy="983.1" r="9.6"/><circle cx="467.6" cy="982.4" r="9.6"/><circle cx="473.8" cy="981.6" r="9.6"/><circle cx="480.0" cy="980.9" r="9.6"/><circle cx="486.2" cy="980.1" r="9.6"/><circle cx="492.3" cy="979.4" r="9.6"/><circle cx="498.5" cy="978.6" r="9.6"/><circle cx="504.7" cy="977.9" r="9.6"/><circle cx="510.9" cy="977.1" r="9.6"/><circle cx="517.1" cy="976.4" r="9.6"/><circle cx="523.2" cy="975.6" r="9.6"/><circle cx="529.4" cy="974.9" r="9.6"/><circle cx="535.6" cy="974.1" r="9.6"/><circle cx="541.8" cy="973.4" r="9.6"/><circle cx="548.0" cy="972.6" r="9.6"/><circle cx="554.1" cy="971.8" r="9.6"/><circle cx="560.3" cy="971.1" r="9.6"/><circle cx="566.5" cy="970.3" r="9.6"/><circle cx="572.7" cy="969.6" r="9.6"/><circle cx="578.9" cy="968.9" r="9.6"/><circle cx="585.0" cy="968.2" r="9.6"/><circle cx="591.2" cy="967.5" r="9.6"/><circle cx="597.4" cy="966.8" r="9.6"/><circle cx="603.6" cy="966.0" r="9.6"/><circle cx="609.8" cy="965.3" r="9.6"/><circle cx="615.9" cy="964.6" r="9.6"/><circle cx="622.1" cy="963.9" r="9.6"/><circle cx="628.3" cy="963.1" r="9.6"/><circle cx="634.5" cy="962.3" r="9.6"/><circle cx="640.6" cy="961.8" r="9.6"/><circle cx="646.8" cy="961.1" r="9.6"/><circle cx="653.0" cy="960.2" r="9.6"/><circle cx="659.2" cy="959.5" r="9.6"/><circle cx="665.4" cy="959.1" r="9.6"/><circle cx="671.5" cy="958.4" r="9.6"/><circle cx="677.7" cy="957.5" r="9.6"/><circle cx="683.9" cy="956.8" r="9.6"/><circle cx="690.1" cy="956.4" r="9.6"/><circle cx="696.3" cy="955.8" r="9.6"/><circle cx="702.4" cy="954.7" r="9.6"/><circle cx="708.6" cy="954.0" r="9.6"/><circle cx="714.8" cy="953.8" r="9.6"/><circle cx="721.0" cy="953.1" r="9.6"/><circle cx="727.2" cy="951.9" r="9.6"/><circle cx="733.3" cy="951.2" r="9.6"/><circle cx="739.5" cy="951.1" r="9.6"/><circle cx="745.7" cy="950.4" r="9.6"/><circle cx="751.9" cy="949.2" r="9.6"/><circle cx="758.1" cy="948.5" r="9.6"/><circle cx="764.2" cy="948.4" r="9.6"/><circle cx="770.4" cy="947.8" r="9.6"/><circle cx="776.6" cy="946.4" r="9.6"/><circle cx="782.8" cy="945.7" r="9.6"/><circle cx="788.9" cy="945.8" r="9.6"/><circle cx="795.1" cy="945.1" r="9.6"/><circle cx="801.3" cy="943.6" r="9.6"/><circle cx="807.5" cy="942.9" r="9.6"/><circle cx="813.7" cy="943.1" r="9.6"/><circle cx="819.8" cy="942.4" r="9.6"/><circle cx="826.0" cy="940.9" r="9.6"/><circle cx="832.2" cy="940.2" r="9.6"/><circle cx="838.4" cy="940.4" r="9.6"/><circle cx="844.6" cy="939.8" r="9.6"/><circle cx="850.7" cy="938.1" r="9.6"/><circle cx="856.9" cy="937.4" r="9.6"/><circle cx="863.1" cy="937.8" r="9.6"/><circle cx="869.3" cy="937.1" r="9.6"/><circle cx="875.5" cy="935.3" r="9.6"/><circle cx="881.6" cy="934.6" r="9.6"/><circle cx="887.8" cy="935.1" r="9.6"/><circle cx="894.0" cy="934.4" r="9.6"/><circle cx="900.2" cy="932.6" r="9.6"/><circle cx="906.3" cy="931.9" r="9.6"/><circle cx="912.5" cy="932.4" r="9.6"/><circle cx="918.7" cy="931.7" r="9.6"/><circle cx="924.9" cy="929.8" r="9.6"/><circle cx="931.1" cy="929.1" r="9.6"/><circle cx="937.2" cy="929.7" r="9.6"/><circle cx="943.4" cy="929.0" r="9.6"/><circle cx="949.6" cy="927.0" r="9.6"/><circle cx="955.8" cy="926.3" r="9.6"/><circle cx="962.0" cy="927.0" r="9.6"/><circle cx="968.1" cy="926.3" r="9.6"/><circle cx="974.3" cy="924.2" r="9.6"/><circle cx="980.5" cy="923.5" r="9.6"/><circle cx="986.7" cy="924.3" r="9.6"/><circle cx="992.9" cy="923.6" r="9.6"/><circle cx="999.0" cy="921.4" r="9.6"/><circle cx="1005.2" cy="920.7" r="9.6"/><circle cx="1011.4" cy="921.6" r="9.6"/><circle cx="1017.6" cy="920.9" r="9.6"/><circle cx="1023.8" cy="918.6" r="9.6"/><circle cx="1029.9" cy="917.9" r="9.6"/><circle cx="1036.1" cy="918.9" r="9.6"/><circle cx="1042.3" cy="918.3" r="9.6"/><circle cx="1048.5" cy="915.8" r="9.6"/><circle cx="1054.6" cy="915.1" r="9.6"/><circle cx="1060.8" cy="916.2" r="9.6"/><circle cx="1067.0" cy="915.6" r="9.6"/><circle cx="1073.2" cy="913.0" r="9.6"/><circle cx="1079.4" cy="912.3" r="9.6"/><circle cx="1085.5" cy="913.5" r="9.6"/><circle cx="1091.7" cy="912.9" r="9.6"/><circle cx="1097.9" cy="910.2" r="9.6"/><circle cx="1104.1" cy="909.5" r="9.6"/><circle cx="1110.3" cy="910.8" r="9.6"/><circle cx="1116.4" cy="910.2" r="9.6"/><circle cx="1122.6" cy="907.5" r="9.6"/><circle cx="1128.8" cy="906.8" r="9.6"/><circle cx="1135.0" cy="908.1" r="9.6"/><circle cx="1141.2" cy="907.4" r="9.6"/><circle cx="1147.3" cy="904.7" r="9.6"/><circle cx="1153.5" cy="904.0" r="9.6"/><circle cx="1159.7" cy="905.3" r="9.6"/><circle cx="1165.9" cy="904.5" r="9.6"/><circle cx="1172.1" cy="901.7" r="9.6"/><circle cx="1178.2" cy="900.9" r="9.6"/><circle cx="1184.4" cy="902.2" r="9.6"/><circle cx="1190.6" cy="901.4" r="9.6"/><circle cx="1196.8" cy="898.6" r="9.6"/><circle cx="1202.9" cy="897.8" r="9.6"/><circle cx="1209.1" cy="899.1" r="9.6"/><circle cx="1215.3" cy="898.3" r="9.6"/><circle cx="1221.5" cy="895.5" r="9.6"/><circle cx="1227.7" cy="894.7" r="9.6"/><circle cx="1233.8" cy="896.0" r="9.6"/><circle cx="1240.0" cy="895.3" r="9.6"/><circle cx="1246.2" cy="892.7" r="9.6"/><circle cx="1252.4" cy="892.1" r="9.6"/><circle cx="1258.6" cy="893.4" r="9.6"/><circle cx="1264.7" cy="892.8" r="9.6"/><circle cx="1270.9" cy="890.1" r="9.6"/><circle cx="1277.1" cy="889.5" r="9.6"/><circle cx="1283.3" cy="890.9" r="9.6"/><circle cx="1289.5" cy="890.1" r="9.6"/><circle cx="1295.6" cy="887.3" r="9.6"/><circle cx="1301.8" cy="886.4" r="9.6"/><circle cx="1308.0" cy="887.6" r="9.6"/><circle cx="1314.2" cy="886.8" r="9.6"/><circle cx="1320.4" cy="884.0" r="9.6"/><circle cx="1326.5" cy="883.2" r="9.6"/><circle cx="1332.7" cy="884.4" r="9.6"/><circle cx="1338.9" cy="883.5" r="9.6"/><circle cx="1345.1" cy="880.7" r="9.6"/><circle cx="1351.2" cy="879.9" r="9.6"/><circle cx="1357.4" cy="881.1" r="9.6"/><circle cx="1363.6" cy="880.3" r="9.6"/><circle cx="1369.8" cy="877.5" r="9.6"/><circle cx="1376.0" cy="876.6" r="9.6"/><circle cx="1382.1" cy="877.8" r="9.6"/><circle cx="1388.3" cy="877.0" r="9.6"/><circle cx="1394.5" cy="874.2" r="9.6"/><circle cx="1400.7" cy="873.4" r="9.6"/><circle cx="1406.9" cy="874.6" r="9.6"/><circle cx="1413.0" cy="873.8" r="9.6"/><circle cx="1419.2" cy="871.0" r="9.6"/><circle cx="1425.4" cy="870.2" r="9.6"/><circle cx="1431.6" cy="871.4" r="9.6"/><circle cx="1437.8" cy="870.6" r="9.6"/><circle cx="1443.9" cy="867.8" r="9.6"/><circle cx="1450.1" cy="867.0" r="9.6"/><circle cx="1456.3" cy="868.2" r="9.6"/><circle cx="1462.5" cy="867.4" r="9.6"/><circle cx="1468.7" cy="864.6" r="9.6"/><circle cx="1474.8" cy="863.8" r="9.6"/><circle cx="1481.0" cy="865.0" r="9.6"/><circle cx="1487.2" cy="864.2" r="9.6"/><circle cx="1493.4" cy="861.4" r="9.6"/><circle cx="1499.5" cy="860.7" r="9.6"/><circle cx="1505.7" cy="861.9" r="9.6"/><circle cx="1511.9" cy="861.1" r="9.6"/><circle cx="1518.1" cy="858.3" r="9.6"/><circle cx="1524.3" cy="857.6" r="9.6"/><circle cx="1530.4" cy="858.8" r="9.6"/><circle cx="1536.6" cy="858.0" r="9.6"/><circle cx="1542.8" cy="855.2" r="9.6"/><circle cx="1549.0" cy="854.5" r="9.6"/><circle cx="1555.2" cy="855.7" r="9.6"/><circle cx="1561.3" cy="854.9" r="9.6"/><circle cx="1567.5" cy="852.2" r="9.6"/><circle cx="1573.7" cy="851.4" r="9.6"/><circle cx="1579.9" cy="852.6" r="9.6"/><circle cx="1586.1" cy="851.8" r="9.6"/><circle cx="1592.2" cy="849.1" r="9.6"/><circle cx="1598.4" cy="848.3" r="9.6"/><circle cx="1604.6" cy="849.5" r="9.6"/><circle cx="1610.8" cy="848.8" r="9.6"/><circle cx="1616.9" cy="846.0" r="9.6"/><circle cx="1623.1" cy="845.3" r="9.6"/><circle cx="1629.3" cy="846.5" r="9.6"/><circle cx="1635.5" cy="845.7" r="9.6"/><circle cx="1641.7" cy="843.0" r="9.6"/><circle cx="1647.8" cy="842.2" r="9.6"/><circle cx="1654.0" cy="843.5" r="9.6"/><circle cx="1660.2" cy="842.7" r="9.6"/><circle cx="1666.4" cy="840.0" r="9.6"/><circle cx="1672.6" cy="839.2" r="9.6"/><circle cx="1678.7" cy="840.4" r="9.6"/><circle cx="1684.9" cy="839.7" r="9.6"/><circle cx="1691.1" cy="836.9" r="9.6"/><circle cx="1697.3" cy="836.2" r="9.6"/><circle cx="1703.5" cy="837.4" r="9.6"/></g>
<g fill="#00B0F6"><circle cx="282.3" cy="1000.0" r="9.6"/><circle cx="294.6" cy="994.9" r="9.6"/><circle cx="307.0" cy="989.7" r="9.6"/><circle cx="319.3" cy="984.6" r="9.6"/><circle cx="331.7" cy="979.4" r="9.6"/><circle cx="344.0" cy="974.2" r="9.6"/><circle cx="356.4" cy="969.0" r="9.6"/><circle cx="368.8" cy="963.9" r="9.6"/><circle cx="381.1" cy="958.6" r="9.6"/><circle cx="393.5" cy="953.6" r="9.6"/><circle cx="405.8" cy="948.2" r="9.6"/><circle cx="418.2" cy="943.3" r="9.6"/><circle cx="430.6" cy="937.9" r="9.6"/><circle cx="442.9" cy="933.0" r="9.6"/><circle cx="455.3" cy="927.4" r="9.6"/><circle cx="467.6" cy="922.6" r="9.6"/><circle cx="480.0" cy="917.0" r="9.6"/><circle cx="492.3" cy="912.3" r="9.6"/><circle cx="504.7" cy="906.6" r="9.6"/><circle cx="517.1" cy="902.0" r="9.6"/><circle cx="529.4" cy="896.0" r="9.6"/><circle cx="541.8" cy="891.5" r="9.6"/><circle cx="554.1" cy="885.1" r="9.6"/><circle cx="566.5" cy="881.0" r="9.6"/><circle cx="578.9" cy="874.1" r="9.6"/><circle cx="591.2" cy="870.5" r="9.6"/><circle cx="603.6" cy="863.1" r="9.6"/><circle cx="615.9" cy="860.0" r="9.6"/><circle cx="628.3" cy="851.9" r="9.6"/><circle cx="640.6" cy="849.4" r="9.6"/><circle cx="653.0" cy="840.7" r="9.6"/><circle cx="665.4" cy="838.8" r="9.6"/><circle cx="677.7" cy="829.8" r="9.6"/><circle cx="690.1" cy="828.2" r="9.6"/><circle cx="702.4" cy="819.2" r="9.6"/><circle cx="714.8" cy="817.7" r="9.6"/><circle cx="727.2" cy="808.6" r="9.6"/><circle cx="739.5" cy="807.1" r="9.6"/><circle cx="751.9" cy="798.1" r="9.6"/><circle cx="764.2" cy="796.5" r="9.6"/><circle cx="776.6" cy="787.5" r="9.6"/><circle cx="788.9" cy="785.9" r="9.6"/><circle cx="801.3" cy="776.9" r="9.6"/><circle cx="813.7" cy="775.2" r="9.6"/><circle cx="826.0" cy="766.4" r="9.6"/><circle cx="838.4" cy="764.6" r="9.6"/><circle cx="850.7" cy="755.8" r="9.6"/><circle cx="863.1" cy="753.9" r="9.6"/><circle cx="875.5" cy="745.3" r="9.6"/><circle cx="887.8" cy="743.3" r="9.6"/><circle cx="900.2" cy="734.7" r="9.6"/><circle cx="912.5" cy="732.6" r="9.6"/><circle cx="924.9" cy="724.2" r="9.6"/><circle cx="937.2" cy="721.8" r="9.6"/><circle cx="949.6" cy="713.6" r="9.6"/><circle cx="962.0" cy="711.1" r="9.6"/><circle cx="974.3" cy="703.1" r="9.6"/><circle cx="986.7" cy="700.4" r="9.6"/><circle cx="999.0" cy="692.6" r="9.6"/><circle cx="1011.4" cy="689.6" r="9.6"/><circle cx="1023.8" cy="682.1" r="9.6"/><circle cx="1036.1" cy="679.2" r="9.6"/><circle cx="1048.5" cy="671.6" r="9.6"/><circle cx="1060.8" cy="668.7" r="9.6"/><circle cx="1073.2" cy="661.1" r="9.6"/><circle cx="1085.5" cy="658.3" r="9.6"/><circle cx="1097.9" cy="650.6" r="9.6"/><circle cx="1110.3" cy="647.9" r="9.6"/><circle cx="1122.6" cy="640.1" r="9.6"/><circle cx="1135.0" cy="637.4" r="9.6"/><circle cx="1147.3" cy="629.6" r="9.6"/><circle cx="1159.7" cy="627.0" r="9.6"/><circle cx="1172.1" cy="619.1" r="9.6"/><circle cx="1184.4" cy="616.6" r="9.6"/><circle cx="1196.8" cy="608.6" r="9.6"/><circle cx="1209.1" cy="606.2" r="9.6"/><circle cx="1221.5" cy="598.1" r="9.6"/><circle cx="1233.8" cy="595.8" r="9.6"/><circle cx="1246.2" cy="587.7" r="9.6"/><circle cx="282.3" cy="999.9" r="9.6"/><circle cx="294.6" cy="994.5" r="9.6"/><circle cx="307.0" cy="989.3" r="9.6"/><circle cx="319.3" cy="983.7" r="9.6"/><circle cx="331.7" cy="978.6" r="9.6"/><circle cx="344.0" cy="973.0" r="9.6"/><circle cx="356.4" cy="968.0" r="9.6"/><circle cx="368.8" cy="962.2" r="9.6"/><circle cx="381.1" cy="957.4" r="9.6"/><circle cx="393.5" cy="951.5" r="9.6"/><circle cx="405.8" cy="946.8" r="9.6"/><circle cx="418.2" cy="940.7" r="9.6"/><circle cx="430.6" cy="936.1" r="9.6"/><circle cx="442.9" cy="930.0" r="9.6"/><circle cx="455.3" cy="925.5" r="9.6"/><circle cx="467.6" cy="919.3" r="9.6"/><circle cx="480.0" cy="914.8" r="9.6"/><circle cx="492.3" cy="908.5" r="9.6"/><circle cx="504.7" cy="904.1" r="9.6"/><circle cx="517.1" cy="897.8" r="9.6"/><circle cx="529.4" cy="893.3" r="9.6"/><circle cx="541.8" cy="886.9" r="9.6"/><circle cx="554.1" cy="882.4" r="9.6"/><circle cx="566.5" cy="876.1" r="9.6"/><circle cx="578.9" cy="871.4" r="9.6"/><circle cx="591.2" cy="865.2" r="9.6"/><circle cx="603.6" cy="860.3" r="9.6"/><circle cx="615.9" cy="854.3" r="9.6"/><circle cx="628.3" cy="849.2" r="9.6"/><circle cx="640.6" cy="843.4" r="9.6"/><circle cx="653.0" cy="838.0" r="9.6"/><circle cx="665.4" cy="832.5" r="9.6"/><circle cx="677.7" cy="827.0" r="9.6"/><circle cx="690.1" cy="821.6" r="9.6"/><circle cx="702.4" cy="816.2" r="9.6"/><circle cx="714.8" cy="810.8" r="9.6"/><circle cx="727.2" cy="805.5" r="9.6"/><circle cx="739.5" cy="799.9" r="9.6"/><circle cx="751.9" cy="794.7" r="9.6"/><circle cx="764.2" cy="788.9" r="9.6"/><circle cx="776.6" cy="783.9" r="9.6"/><circle cx="788.9" cy="778.5" r="9.6"/><circle cx="801.3" cy="773.2" r="9.6"/><circle cx="813.7" cy="768.1" r="9.6"/><circle cx="826.0" cy="762.4" r="9.6"/><circle cx="838.4" cy="757.7" r="9.6"/><circle cx="850.7" cy="751.6" r="9.6"/><circle cx="863.1" cy="747.3" r="9.6"/><circle cx="875.5" cy="740.9" r="9.6"/><circle cx="887.8" cy="736.5" r="9.6"/><circle cx="900.2" cy="730.1" r="9.6"/><circle cx="912.5" cy="725.6" r="9.6"/><circle cx="924.9" cy="719.4" r="9.6"/><circle cx="937.2" cy="714.7" r="9.6"/><circle cx="949.6" cy="708.7" r="9.6"/><circle cx="962.0" cy="703.8" r="9.6"/><circle cx="974.3" cy="697.9" r="9.6"/><circle cx="986.7" cy="692.9" r="9.6"/><circle cx="999.0" cy="687.2" r="9.6"/><circle cx="1011.4" cy="681.0" r="9.6"/><circle cx="1023.8" cy="676.4" r="9.6"/><circle cx="1036.1" cy="669.2" r="9.6"/><circle cx="1048.5" cy="665.7" r="9.6"/><circle cx="1060.8" cy="658.5" r="9.6"/><circle cx="1073.2" cy="655.0" r="9.6"/><circle cx="1085.5" cy="647.8" r="9.6"/><circle cx="1097.9" cy="644.3" r="9.6"/><circle cx="1110.3" cy="637.1" r="9.6"/><circle cx="1122.6" cy="633.5" r="9.6"/><circle cx="1135.0" cy="626.4" r="9.6"/><circle cx="1147.3" cy="622.8" r="9.6"/><circle cx="1159.7" cy="615.8" r="9.6"/><circle cx="1172.1" cy="612.1" r="9.6"/><circle cx="1184.4" cy="605.2" r="9.6"/><circle cx="1196.8" cy="601.4" r="9.6"/><circle cx="1209.1" cy="594.6" r="9.6"/><circle cx="1221.5" cy="590.9" r="9.6"/><circle cx="1233.8" cy="584.0" r="9.6"/><circle cx="1246.2" cy="580.8" r="9.6"/><circle cx="282.3" cy="999.7" r="9.6"/><circle cx="294.6" cy="994.1" r="9.6"/><circle cx="307.0" cy="988.9" r="9.6"/><circle cx="319.3" cy="983.0" r="9.6"/><circle cx="331.7" cy="978.0" r="9.6"/><circle cx="344.0" cy="971.8" r="9.6"/><circle cx="356.4" cy="967.1" r="9.6"/><circle cx="368.8" cy="960.7" r="9.6"/><circle cx="381.1" cy="956.3" r="9.6"/><circle cx="393.5" cy="949.6" r="9.6"/><circle cx="405.8" cy="945.4" r="9.6"/><circle cx="418.2" cy="938.5" r="9.6"/><circle cx="430.6" cy="934.6" r="9.6"/><circle cx="442.9" cy="927.4" r="9.6"/><circle cx="455.3" cy="923.7" r="9.6"/><circle cx="467.6" cy="916.2" r="9.6"/><circle cx="480.0" cy="912.8" r="9.6"/><circle cx="492.3" cy="905.1" r="9.6"/><circle cx="504.7" cy="901.9" r="9.6"/><circle cx="517.1" cy="894.0" r="9.6"/><circle cx="529.4" cy="891.0" r="9.6"/><circle cx="541.8" cy="882.9" r="9.6"/><circle cx="554.1" cy="880.0" r="9.6"/><circle cx="566.5" cy="871.7" r="9.6"/><circle cx="578.9" cy="868.9" r="9.6"/><circle cx="591.2" cy="860.5" r="9.6"/><circle cx="603.6" cy="857.8" r="9.6"/><circle cx="615.9" cy="849.3" r="9.6"/><circle cx="628.3" cy="846.7" r="9.6"/><circle cx="640.6" cy="838.2" r="9.6"/><circle cx="653.0" cy="835.6" r="9.6"/><circle cx="665.4" cy="827.0" r="9.6"/><circle cx="677.7" cy="824.5" r="9.6"/><circle cx="690.1" cy="815.8" r="9.6"/><circle cx="702.4" cy="813.6" r="9.6"/><circle cx="714.8" cy="804.6" r="9.6"/><circle cx="727.2" cy="802.6" r="9.6"/><circle cx="739.5" cy="793.4" r="9.6"/><circle cx="751.9" cy="791.7" r="9.6"/><circle cx="764.2" cy="782.2" r="9.6"/><circle cx="776.6" cy="780.7" r="9.6"/><circle cx="788.9" cy="772.0" r="9.6"/><circle cx="801.3" cy="769.8" r="9.6"/><circle cx="813.7" cy="761.7" r="9.6"/><circle cx="826.0" cy="758.9" r="9.6"/><circle cx="838.4" cy="751.6" r="9.6"/><circle cx="850.7" cy="747.9" r="9.6"/><circle cx="863.1" cy="741.4" r="9.6"/><circle cx="875.5" cy="737.0" r="9.6"/><circle cx="887.8" cy="730.4" r="9.6"/><circle cx="900.2" cy="726.1" r="9.6"/><circle cx="912.5" cy="719.4" r="9.6"/><circle cx="924.9" cy="715.1" r="9.6"/><circle cx="937.2" cy="708.3" r="9.6"/><circle cx="949.6" cy="704.2" r="9.6"/><circle cx="962.0" cy="697.3" r="9.6"/><circle cx="974.3" cy="693.3" r="9.6"/><circle cx="986.7" cy="686.2" r="9.6"/><circle cx="999.0" cy="682.4" r="9.6"/><circle cx="1011.4" cy="673.3" r="9.6"/><circle cx="1023.8" cy="671.4" r="9.6"/><circle cx="1036.1" cy="660.4" r="9.6"/><circle cx="1048.5" cy="660.5" r="9.6"/><circle cx="1060.8" cy="649.4" r="9.6"/><circle cx="1073.2" cy="649.6" r="9.6"/><circle cx="1085.5" cy="638.5" r="9.6"/><circle cx="1097.9" cy="638.7" r="9.6"/><circle cx="1110.3" cy="627.5" r="9.6"/><circle cx="1122.6" cy="627.7" r="9.6"/><circle cx="1135.0" cy="616.7" r="9.6"/><circle cx="1147.3" cy="616.8" r="9.6"/><circle cx="1159.7" cy="605.9" r="9.6"/><circle cx="1172.1" cy="605.9" r="9.6"/><circle cx="1184.4" cy="595.1" r="9.6"/><circle cx="1196.8" cy="595.0" r="9.6"/><circle cx="1209.1" cy="584.3" r="9.6"/><circle cx="1221.5" cy="584.6" r="9.6"/><circle cx="1233.8" cy="573.5" r="9.6"/><circle cx="1246.2" cy="574.7" r="9.6"/><circle cx="282.3" cy="999.6" r="9.6"/><circle cx="294.6" cy="993.7" r="9.6"/><circle cx="307.0" cy="988.4" r="9.6"/><circle cx="319.3" cy="982.2" r="9.6"/><circle cx="331.7" cy="977.3" r="9.6"/><circle cx="344.0" cy="970.7" r="9.6"/><circle cx="356.4" cy="966.2" r="9.6"/><circle cx="368.8" cy="959.2" r="9.6"/><circle cx="381.1" cy="955.2" r="9.6"/><circle cx="393.5" cy="947.7" r="9.6"/><circle cx="405.8" cy="944.1" r="9.6"/><circle cx="418.2" cy="936.2" r="9.6"/><circle cx="430.6" cy="933.1" r="9.6"/><circle cx="442.9" cy="924.7" r="9.6"/><circle cx="455.3" cy="922.0" r="9.6"/><circle cx="467.6" cy="913.2" r="9.6"/><circle cx="480.0" cy="910.9" r="9.6"/><circle cx="492.3" cy="901.8" r="9.6"/><circle cx="504.7" cy="899.8" r="9.6"/><circle cx="517.1" cy="890.3" r="9.6"/><circle cx="529.4" cy="888.7" r="9.6"/><circle cx="541.8" cy="878.8" r="9.6"/><circle cx="554.1" cy="877.5" r="9.6"/><circle cx="566.5" cy="867.3" r="9.6"/><circle cx="578.9" cy="866.4" r="9.6"/><circle cx="591.2" cy="855.8" r="9.6"/><circle cx="603.6" cy="855.3" r="9.6"/><circle cx="615.9" cy="844.4" r="9.6"/><circle cx="628.3" cy="844.2" r="9.6"/><circle cx="640.6" cy="832.9" r="9.6"/><circle cx="653.0" cy="833.1" r="9.6"/><circle cx="665.4" cy="821.4" r="9.6"/><circle cx="677.7" cy="822.0" r="9.6"/><circle cx="690.1" cy="809.9" r="9.6"/><circle cx="702.4" cy="810.9" r="9.6"/><circle cx="714.8" cy="798.5" r="9.6"/><circle cx="727.2" cy="799.8" r="9.6"/><circle cx="739.5" cy="787.0" r="9.6"/><circle cx="751.9" cy="788.7" r="9.6"/><circle cx="764.2" cy="775.5" r="9.6"/><circle cx="776.6" cy="777.6" r="9.6"/><circle cx="788.9" cy="765.5" r="9.6"/><circle cx="801.3" cy="766.5" r="9.6"/><circle cx="813.7" cy="755.4" r="9.6"/><circle cx="826.0" cy="755.3" r="9.6"/><circle cx="838.4" cy="745.4" r="9.6"/><circle cx="850.7" cy="744.2" r="9.6"/><circle cx="863.1" cy="735.6" r="9.6"/><circle cx="875.5" cy="733.1" r="9.6"/><circle cx="887.8" cy="724.4" r="9.6"/><circle cx="900.2" cy="722.0" r="9.6"/><circle cx="912.5" cy="713.2" r="9.6"/><circle cx="924.9" cy="710.9" r="9.6"/><circle cx="937.2" cy="702.0" r="9.6"/><circle cx="949.6" cy="699.8" r="9.6"/><circle cx="962.0" cy="690.8" r="9.6"/><circle cx="974.3" cy="688.7" r="9.6"/><circle cx="986.7" cy="679.6" r="9.6"/><circle cx="999.0" cy="677.5" r="9.6"/><circle cx="1011.4" cy="665.6" r="9.6"/><circle cx="1023.8" cy="666.4" r="9.6"/><circle cx="1036.1" cy="651.5" r="9.6"/><circle cx="1048.5" cy="655.3" r="9.6"/><circle cx="1060.8" cy="640.3" r="9.6"/><circle cx="1073.2" cy="644.2" r="9.6"/><circle cx="1085.5" cy="629.1" r="9.6"/><circle cx="1097.9" cy="633.1" r="9.6"/><circle cx="1110.3" cy="617.9" r="9.6"/><circle cx="1122.6" cy="621.9" r="9.6"/><circle cx="1135.0" cy="606.9" r="9.6"/><circle cx="1147.3" cy="610.8" r="9.6"/><circle cx="1159.7" cy="595.9" r="9.6"/><circle cx="1172.1" cy="599.7" r="9.6"/><circle cx="1184.4" cy="584.9" r="9.6"/><circle cx="1196.8" cy="588.6" r="9.6"/><circle cx="1209.1" cy="573.9" r="9.6"/><circle cx="1221.5" cy="578.2" r="9.6"/><circle cx="1233.8" cy="563.0" r="9.6"/><circle cx="1246.2" cy="568.5" r="9.6"/></g>
<g fill="#00BF7D"><circle cx="282.3" cy="994.7" r="9.6"/><circle cx="294.6" cy="983.5" r="9.6"/><circle cx="307.0" cy="972.3" r="9.6"/><circle cx="319.3" cy="961.2" r="9.6"/><circle cx="331.7" cy="950.0" r="9.6"/><circle cx="344.0" cy="938.8" r="9.6"/><circle cx="356.4" cy="927.6" r="9.6"/><circle cx="368.8" cy="916.4" r="9.6"/><circle cx="381.1" cy="905.3" r="9.6"/><circle cx="393.5" cy="894.1" r="9.6"/><circle cx="405.8" cy="882.9" r="9.6"/><circle cx="418.2" cy="871.7" r="9.6"/><circle cx="430.6" cy="860.5" r="9.6"/><circle cx="442.9" cy="849.3" r="9.6"/><circle cx="455.3" cy="838.1" r="9.6"/><circle cx="467.6" cy="826.9" r="9.6"/><circle cx="480.0" cy="815.6" r="9.6"/><circle cx="492.3" cy="804.4" r="9.6"/><circle cx="504.7" cy="793.2" r="9.6"/><circle cx="517.1" cy="782.0" r="9.6"/><circle cx="529.4" cy="770.8" r="9.6"/><circle cx="541.8" cy="759.6" r="9.6"/><circle cx="554.1" cy="748.3" r="9.6"/><circle cx="566.5" cy="737.1" r="9.6"/><circle cx="578.9" cy="725.9" r="9.6"/><circle cx="591.2" cy="714.7" r="9.6"/><circle cx="603.6" cy="703.5" r="9.6"/><circle cx="615.9" cy="692.2" r="9.6"/><circle cx="628.3" cy="681.0" r="9.6"/><circle cx="640.6" cy="669.8" r="9.6"/><circle cx="653.0" cy="658.5" r="9.6"/><circle cx="665.4" cy="647.3" r="9.6"/><circle cx="677.7" cy="636.1" r="9.6"/><circle cx="690.1" cy="624.8" r="9.6"/><circle cx="702.4" cy="613.6" r="9.6"/><circle cx="714.8" cy="602.3" r="9.6"/><circle cx="727.2" cy="591.1" r="9.6"/><circle cx="739.5" cy="579.8" r="9.6"/><circle cx="751.9" cy="568.6" r="9.6"/><circle cx="764.2" cy="557.3" r="9.6"/><circle cx="776.6" cy="546.1" r="9.6"/><circle cx="788.9" cy="534.8" r="9.6"/><circle cx="801.3" cy="523.6" r="9.6"/><circle cx="813.7" cy="512.3" r="9.6"/><circle cx="826.0" cy="501.0" r="9.6"/><circle cx="838.4" cy="489.8" r="9.6"/><circle cx="850.7" cy="478.5" r="9.6"/><circle cx="863.1" cy="467.2" r="9.6"/><circle cx="875.5" cy="456.0" r="9.6"/><circle cx="887.8" cy="444.7" r="9.6"/><circle cx="900.2" cy="433.4" r="9.6"/><circle cx="912.5" cy="422.1" r="9.6"/><circle cx="924.9" cy="410.9" r="9.6"/><circle cx="937.2" cy="399.6" r="9.6"/><circle cx="949.6" cy="388.3" r="9.6"/><circle cx="962.0" cy="377.0" r="9.6"/><circle cx="974.3" cy="365.7" r="9.6"/><circle cx="986.7" cy="354.4" r="9.6"/><circle cx="999.0" cy="343.1" r="9.6"/><circle cx="1011.4" cy="331.9" r="9.6"/><circle cx="1023.8" cy="320.6" r="9.6"/><circle cx="1036.1" cy="309.3" r="9.6"/><circle cx="1048.5" cy="298.0" r="9.6"/><circle cx="1060.8" cy="286.7" r="9.6"/><circle cx="1073.2" cy="275.4" r="9.6"/><circle cx="1085.5" cy="264.0" r="9.6"/><circle cx="1097.9" cy="252.7" r="9.6"/><circle cx="1110.3" cy="241.4" r="9.6"/><circle cx="1122.6" cy="230.1" r="9.6"/><circle cx="1135.0" cy="218.8" r="9.6"/><circle cx="1147.3" cy="207.5" r="9.6"/><circle cx="1159.7" cy="196.2" r="9.6"/><circle cx="1172.1" cy="184.8" r="9.6"/><circle cx="1184.4" cy="173.5" r="9.6"/><circle cx="1196.8" cy="162.2" r="9.6"/><circle cx="1209.1" cy="150.9" r="9.6"/><circle cx="1221.5" cy="139.5" r="9.6"/><circle cx="1233.8" cy="128.2" r="9.6"/><circle cx="1246.2" cy="116.9" r="9.6"/><circle cx="282.3" cy="994.5" r="9.6"/><circle cx="294.6" cy="983.2" r="9.6"/><circle cx="307.0" cy="971.8" r="9.6"/><circle cx="319.3" cy="960.6" r="9.6"/><circle cx="331.7" cy="949.1" r="9.6"/><circle cx="344.0" cy="937.9" r="9.6"/><circle cx="356.4" cy="926.4" r="9.6"/><circle cx="368.8" cy="915.3" r="9.6"/><circle cx="381.1" cy="903.7" r="9.6"/><circle cx="393.5" cy="892.6" r="9.6"/><circle cx="405.8" cy="881.1" r="9.6"/><circle cx="418.2" cy="870.0" r="9.6"/><circle cx="430.6" cy="858.4" r="9.6"/><circle cx="442.9" cy="847.3" r="9.6"/><circle cx="455.3" cy="835.7" r="9.6"/><circle cx="467.6" cy="824.7" r="9.6"/><circle cx="480.0" cy="813.0" r="9.6"/><circle cx="492.3" cy="802.0" r="9.6"/><circle cx="504.7" cy="790.4" r="9.6"/><circle cx="517.1" cy="779.4" r="9.6"/><circle cx="529.4" cy="767.7" r="9.6"/><circle cx="541.8" cy="756.7" r="9.6"/><circle cx="554.1" cy="745.1" r="9.6"/><circle cx="566.5" cy="734.0" r="9.6"/><circle cx="578.9" cy="722.4" r="9.6"/><circle cx="591.2" cy="711.4" r="9.6"/><circle cx="603.6" cy="699.7" r="9.6"/><circle cx="615.9" cy="688.7" r="9.6"/><circle cx="628.3" cy="677.1" r="9.6"/><circle cx="640.6" cy="666.0" r="9.6"/><circle cx="653.0" cy="654.4" r="9.6"/><circle cx="665.4" cy="643.3" r="9.6"/><circle cx="677.7" cy="631.8" r="9.6"/><circle cx="690.1" cy="620.6" r="9.6"/><circle cx="702.4" cy="609.2" r="9.6"/><circle cx="714.8" cy="598.0" r="9.6"/><circle cx="727.2" cy="586.5" r="9.6"/><circle cx="739.5" cy="575.3" r="9.6"/><circle cx="751.9" cy="563.9" r="9.6"/><circle cx="764.2" cy="552.6" r="9.6"/><circle cx="776.6" cy="541.3" r="9.6"/><circle cx="788.9" cy="529.9" r="9.6"/><circle cx="801.3" cy="518.6" r="9.6"/><circle cx="813.7" cy="507.2" r="9.6"/><circle cx="826.0" cy="496.0" r="9.6"/><circle cx="838.4" cy="484.5" r="9.6"/><circle cx="850.7" cy="473.4" r="9.6"/><circle cx="863.1" cy="461.8" r="9.6"/><circle cx="875.5" cy="450.8" r="9.6"/><circle cx="887.8" cy="439.1" r="9.6"/><circle cx="900.2" cy="428.1" r="9.6"/><circle cx="912.5" cy="416.4" r="9.6"/><circle cx="924.9" cy="405.5" r="9.6"/><circle cx="937.2" cy="393.6" r="9.6"/><circle cx="949.6" cy="382.9" r="9.6"/><circle cx="962.0" cy="370.9" r="9.6"/><circle cx="974.3" cy="360.3" r="9.6"/><circle cx="986.7" cy="348.2" r="9.6"/><circle cx="999.0" cy="337.7" r="9.6"/><circle cx="1011.4" cy="325.5" r="9.6"/><circle cx="1023.8" cy="315.1" r="9.6"/><circle cx="1036.1" cy="302.8" r="9.6"/><circle cx="1048.5" cy="292.5" r="9.6"/><circle cx="1060.8" cy="280.0" r="9.6"/><circle cx="1073.2" cy="269.9" r="9.6"/><circle cx="1085.5" cy="257.3" r="9.6"/><circle cx="1097.9" cy="247.3" r="9.6"/><circle cx="1110.3" cy="234.6" r="9.6"/><circle cx="1122.6" cy="224.7" r="9.6"/><circle cx="1135.0" cy="211.8" r="9.6"/><circle cx="1147.3" cy="202.2" r="9.6"/><circle cx="1159.7" cy="189.1" r="9.6"/><circle cx="1172.1" cy="179.6" r="9.6"/><circle cx="1184.4" cy="166.3" r="9.6"/><circle cx="1196.8" cy="157.0" r="9.6"/><circle cx="1209.1" cy="143.6" r="9.6"/><circle cx="1221.5" cy="134.4" r="9.6"/><circle cx="1233.8" cy="120.8" r="9.6"/><circle cx="1246.2" cy="111.9" r="9.6"/><circle cx="282.3" cy="994.4" r="9.6"/><circle cx="294.6" cy="982.9" r="9.6"/><circle cx="307.0" cy="971.4" r="9.6"/><circle cx="319.3" cy="960.0" r="9.6"/><circle cx="331.7" cy="948.5" r="9.6"/><circle cx="344.0" cy="937.1" r="9.6"/><circle cx="356.4" cy="925.6" r="9.6"/><circle cx="368.8" cy="914.2" r="9.6"/><circle cx="381.1" cy="902.6" r="9.6"/><circle cx="393.5" cy="891.3" r="9.6"/><circle cx="405.8" cy="879.7" r="9.6"/><circle cx="418.2" cy="868.3" r="9.6"/><circle cx="430.6" cy="856.8" r="9.6"/><circle cx="442.9" cy="845.4" r="9.6"/><circle cx="455.3" cy="833.9" r="9.6"/><circle cx="467.6" cy="822.4" r="9.6"/><circle cx="480.0" cy="811.0" r="9.6"/><circle cx="492.3" cy="799.4" r="9.6"/><circle cx="504.7" cy="788.2" r="9.6"/><circle cx="517.1" cy="776.4" r="9.6"/><circle cx="529.4" cy="765.3" r="9.6"/><circle cx="541.8" cy="753.4" r="9.6"/><circle cx="554.1" cy="742.4" r="9.6"/><circle cx="566.5" cy="730.4" r="9.6"/><circle cx="578.9" cy="719.5" r="9.6"/><circle cx="591.2" cy="707.3" r="9.6"/><circle cx="603.6" cy="696.7" r="9.6"/><circle cx="615.9" cy="684.3" r="9.6"/><circle cx="628.3" cy="673.8" r="9.6"/><circle cx="640.6" cy="661.2" r="9.6"/><circle cx="653.0" cy="651.0" r="9.6"/><circle cx="665.4" cy="638.1" r="9.6"/><circle cx="677.7" cy="628.1" r="9.6"/><circle cx="690.1" cy="615.1" r="9.6"/><circle cx="702.4" cy="605.3" r="9.6"/><circle cx="714.8" cy="592.0" r="9.6"/><circle cx="727.2" cy="582.5" r="9.6"/><circle cx="739.5" cy="568.9" r="9.6"/><circle cx="751.9" cy="559.6" r="9.6"/><circle cx="764.2" cy="545.7" r="9.6"/><circle cx="776.6" cy="536.8" r="9.6"/><circle cx="788.9" cy="522.6" r="9.6"/><circle cx="801.3" cy="514.0" r="9.6"/><circle cx="813.7" cy="499.5" r="9.6"/><circle cx="826.0" cy="491.2" r="9.6"/><circle cx="838.4" cy="476.3" r="9.6"/><circle cx="850.7" cy="468.4" r="9.6"/><circle cx="863.1" cy="453.1" r="9.6"/><circle cx="875.5" cy="445.6" r="9.6"/><circle cx="887.8" cy="429.9" r="9.6"/><circle cx="900.2" cy="422.8" r="9.6"/><circle cx="912.5" cy="406.7" r="9.6"/><circle cx="924.9" cy="400.0" r="9.6"/><circle cx="937.2" cy="383.5" r="9.6"/><circle cx="949.6" cy="377.3" r="9.6"/><circle cx="962.0" cy="360.3" r="9.6"/><circle cx="974.3" cy="354.5" r="9.6"/><circle cx="986.7" cy="337.1" r="9.6"/><circle cx="999.0" cy="331.7" r="9.6"/><circle cx="1011.4" cy="313.8" r="9.6"/><circle cx="1023.8" cy="309.0" r="9.6"/><circle cx="1036.1" cy="290.6" r="9.6"/><circle cx="1048.5" cy="286.2" r="9.6"/><circle cx="1060.8" cy="267.3" r="9.6"/><circle cx="1073.2" cy="263.5" r="9.6"/><circle cx="1085.5" cy="244.0" r="9.6"/><circle cx="1097.9" cy="240.7" r="9.6"/><circle cx="1110.3" cy="220.7" r="9.6"/><circle cx="1122.6" cy="218.0" r="9.6"/><circle cx="1135.0" cy="197.4" r="9.6"/><circle cx="1147.3" cy="195.3" r="9.6"/><circle cx="1159.7" cy="174.1" r="9.6"/><circle cx="1172.1" cy="172.6" r="9.6"/><circle cx="1184.4" cy="150.7" r="9.6"/><circle cx="1196.8" cy="149.9" r="9.6"/><circle cx="1209.1" cy="127.4" r="9.6"/><circle cx="1221.5" cy="127.2" r="9.6"/><circle cx="1233.8" cy="104.0" r="9.6"/><circle cx="1246.2" cy="104.5" r="9.6"/><circle cx="282.3" cy="994.0" r="9.6"/><circle cx="294.6" cy="982.1" r="9.6"/><circle cx="307.0" cy="970.3" r="9.6"/><circle cx="319.3" cy="958.4" r="9.6"/><circle cx="331.7" cy="946.7" r="9.6"/><circle cx="344.0" cy="934.6" r="9.6"/><circle cx="356.4" cy="923.0" r="9.6"/><circle cx="368.8" cy="910.8" r="9.6"/><circle cx="381.1" cy="899.4" r="9.6"/><circle cx="393.5" cy="887.0" r="9.6"/><circle cx="405.8" cy="875.8" r="9.6"/><circle cx="418.2" cy="863.1" r="9.6"/><circle cx="430.6" cy="852.2" r="9.6"/><circle cx="442.9" cy="839.1" r="9.6"/><circle cx="455.3" cy="828.3" r="9.6"/><circle cx="467.6" cy="815.1" r="9.6"/><circle cx="480.0" cy="804.5" r="9.6"/><circle cx="492.3" cy="791.3" r="9.6"/><circle cx="504.7" cy="780.3" r="9.6"/><circle cx="517.1" cy="767.8" r="9.6"/><circle cx="529.4" cy="756.1" r="9.6"/><circle cx="541.8" cy="744.5" r="9.6"/><circle cx="554.1" cy="731.7" r="9.6"/><circle cx="566.5" cy="721.3" r="9.6"/><circle cx="578.9" cy="707.2" r="9.6"/><circle cx="591.2" cy="698.1" r="9.6"/><circle cx="603.6" cy="682.7" r="9.6"/><circle cx="615.9" cy="675.1" r="9.6"/><circle cx="628.3" cy="658.7" r="9.6"/><circle cx="640.6" cy="651.4" r="9.6"/><circle cx="653.0" cy="634.8" r="9.6"/><circle cx="665.4" cy="627.8" r="9.6"/><circle cx="677.7" cy="610.9" r="9.6"/><circle cx="690.1" cy="604.2" r="9.6"/><circle cx="702.4" cy="586.9" r="9.6"/><circle cx="714.8" cy="580.6" r="9.6"/><circle cx="727.2" cy="563.0" r="9.6"/><circle cx="739.5" cy="556.1" r="9.6"/><circle cx="751.9" cy="539.2" r="9.6"/><circle cx="764.2" cy="530.6" r="9.6"/><circle cx="776.6" cy="515.5" r="9.6"/><circle cx="788.9" cy="505.0" r="9.6"/><circle cx="801.3" cy="491.7" r="9.6"/><circle cx="813.7" cy="481.3" r="9.6"/><circle cx="826.0" cy="467.9" r="9.6"/><circle cx="838.4" cy="457.3" r="9.6"/><circle cx="850.7" cy="444.1" r="9.6"/><circle cx="863.1" cy="433.4" r="9.6"/><circle cx="875.5" cy="420.3" r="9.6"/><circle cx="887.8" cy="409.4" r="9.6"/><circle cx="900.2" cy="396.5" r="9.6"/><circle cx="912.5" cy="385.5" r="9.6"/><circle cx="924.9" cy="372.7" r="9.6"/><circle cx="937.2" cy="361.5" r="9.6"/><circle cx="949.6" cy="349.0" r="9.6"/><circle cx="962.0" cy="337.5" r="9.6"/><circle cx="974.3" cy="325.2" r="9.6"/><circle cx="986.7" cy="313.6" r="9.6"/><circle cx="999.0" cy="301.4" r="9.6"/><circle cx="1011.4" cy="289.6" r="9.6"/><circle cx="1023.8" cy="277.2" r="9.6"/><circle cx="1036.1" cy="264.8" r="9.6"/><circle cx="1048.5" cy="252.3" r="9.6"/><circle cx="1060.8" cy="240.0" r="9.6"/><circle cx="1073.2" cy="228.2" r="9.6"/><circle cx="1085.5" cy="215.2" r="9.6"/><circle cx="1097.9" cy="205.3" r="9.6"/><circle cx="1110.3" cy="190.3" r="9.6"/><circle cx="1122.6" cy="182.8" r="9.6"/><circle cx="1135.0" cy="166.2" r="9.6"/><circle cx="1147.3" cy="160.7" r="9.6"/><circle cx="1159.7" cy="142.2" r="9.6"/><circle cx="1172.1" cy="138.7" r="9.6"/><circle cx="1184.4" cy="118.1" r="9.6"/><circle cx="1196.8" cy="116.6" r="9.6"/><circle cx="1209.1" cy="94.0" r="9.6"/><circle cx="1221.5" cy="94.5" r="9.6"/><circle cx="1233.8" cy="69.9" r="9.6"/><circle cx="1246.2" cy="72.4" r="9.6"/></g>
</svg>
<line x1="187.20" x2="199.2" y1="1005.20" y2="1005.20" stroke="#333" stroke-width="4.45"/>
<line x1="187.20" x2="199.2" y1="694.33" y2="694.33" stroke="#333" stroke-width="4.45"/>
<line x1="187.20" x2="199.2" y1="383.46" y2="383.46" stroke="#333" stroke-width="4.45"/>
<line x1="187.20" x2="199.2" y1="72.59" y2="72.59" stroke="#333" stroke-width="4.45"/>
<line y1="1051.6" y2="1063.60" x1="269.90" x2="269.90" stroke="#333" stroke-width="4.45"/>
<line y1="1051.6" y2="1063.60" x1="764.23" x2="764.23" stroke="#333" stroke-width="4.45"/>
<line y1="1051.6" y2="1063.60" x1="1258.56" x2="1258.56" stroke="#333" stroke-width="4.45"/>
<line y1="1051.6" y2="1063.60" x1="1752.89" x2="1752.89" stroke="#333" stroke-width="4.45"/>
<text x="177.6" y="1018.3" text-anchor="end" font-size="36.67" fill="#4D4D4D">0</text>
<text x="177.6" y="707.4" text-anchor="end" font-size="36.67" fill="#4D4D4D">5000</text>
<text x="177.6" y="396.6" text-anchor="end" font-size="36.67" fill="#4D4D4D">10000</text>
<text x="177.6" y="85.7" text-anchor="end" font-size="36.67" fill="#4D4D4D">15000</text>
<text x="269.90" y="1098.5" text-anchor="middle" font-size="36.67" fill="#4D4D4D">0e<tspan dy="3.2">+</tspan><tspan dy="-3.2">00</tspan></text>
<text x="764.23" y="1098.5" text-anchor="middle" font-size="36.67" fill="#4D4D4D">2e<tspan dy="3.2">+</tspan><tspan dy="-3.2">05</tspan></text>
<text x="1258.56" y="1098.5" text-anchor="middle" font-size="36.67" fill="#4D4D4D">4e<tspan dy="3.2">+</tspan><tspan dy="-3.2">05</tspan></text>
<text x="1752.89" y="1098.5" text-anchor="middle" font-size="36.67" fill="#4D4D4D">6e<tspan dy="3.2">+</tspan><tspan dy="-3.2">05</tspan></text>
<text x="988" y="1153.3" text-anchor="middle" font-size="45.83" fill="#000">Jobs processed</text>
<text transform="translate(57,537.3) rotate(-90)" x="0" y="0" text-anchor="middle" font-size="45.83" letter-spacing="-0.235" fill="#000">Cummulative runtime in s</text>
<text x="190.4" y="1285.7" font-size="45.83" letter-spacing="-0.3" fill="#000">alg_name</text>
<rect x="412" y="1232" width="72" height="72" fill="#F2F2F2"/>
<circle cx="448" cy="1268" r="9.6" fill="#F8766D"/>
<text x="505.6" y="1282" font-size="36.67" letter-spacing="-0.37" fill="#000">bin_aggzeros</text>
<rect x="744" y="1232" width="72" height="72" fill="#F2F2F2"/>
<circle cx="780" cy="1268" r="9.6" fill="#A3A500"/>
<text x="838.7" y="1282" font-size="36.67" letter-spacing="-0.05" fill="#000">bin_all</text>
<rect x="966" y="1232" width="72" height="72" fill="#F2F2F2"/>
<circle cx="1002" cy="1268" r="9.6" fill="#00BF7D"/>
<text x="1060.9" y="1282" font-size="36.67" letter-spacing="-0.37" fill="#000">hex_lev</text>
<rect x="1207" y="1232" width="72" height="72" fill="#F2F2F2"/>
<circle cx="1243" cy="1268" r="9.6" fill="#00B0F6"/>
<text x="1301.0" y="1282" font-size="36.67" letter-spacing="-0.37" fill="#000">hex_native</text>
<rect x="1497" y="1232" width="72" height="72" fill="#F2F2F2"/>
<circle cx="1533" cy="1268" r="9.6" fill="#E76BF3"/>
<text x="1591.9" y="1282" font-size="36.67" letter-spacing="-0.37" fill="#000">hex_phases</text>
</svg>
</body></html>
